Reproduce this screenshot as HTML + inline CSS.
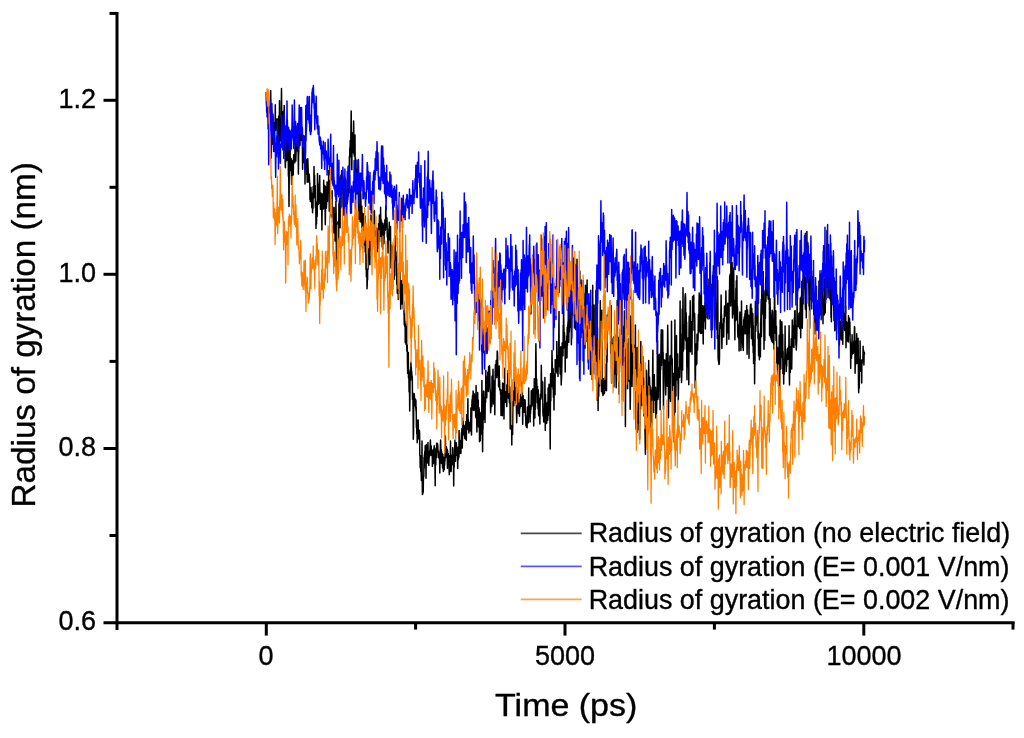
<!DOCTYPE html>
<html><head><meta charset="utf-8"><title>Radius of gyration</title>
<style>
html,body{margin:0;padding:0;background:#fff;}
svg{display:block;}
text{font-family:"Liberation Sans",Arial,Helvetica,sans-serif;fill:#000;stroke:#000;stroke-width:0.35px;}
.tick{font-size:27px;}
.title{}
.leg{font-size:26.9px;}
</style></head>
<body>
<svg width="1024" height="738" viewBox="0 0 1024 738">
<rect x="0" y="0" width="1024" height="738" fill="#ffffff"/>
<g id="series">
<polyline id="s-black" fill="none" stroke="#000000" stroke-width="1.5" stroke-linejoin="round" points="266.3,92.0 266.5,102.9 266.7,106.2 266.9,105.8 267.1,103.0 267.3,104.4 267.5,105.8 267.7,108.4 267.9,107.7 268.1,100.4 268.3,90.6 268.5,106.4 268.7,121.2 268.9,130.0 269.1,121.5 269.3,108.0 269.5,125.7 269.7,112.5 269.9,116.9 270.1,113.0 270.3,105.5 270.5,114.7 270.7,90.5 270.9,109.3 271.1,113.2 271.3,118.1 271.5,110.6 271.7,132.7 271.9,139.4 272.1,132.8 272.3,121.0 272.5,115.8 272.7,144.2 272.9,114.1 273.1,121.1 273.3,133.9 273.5,134.5 273.7,129.0 273.9,148.2 274.1,124.3 274.3,130.1 274.5,126.4 274.7,122.5 274.9,130.8 275.1,125.0 275.3,104.7 275.5,128.6 275.7,124.8 275.9,130.2 276.1,120.5 276.3,128.1 276.5,119.2 276.7,125.4 276.9,129.6 277.1,118.8 277.3,119.2 277.5,125.7 277.7,132.4 277.9,129.1 278.1,127.3 278.3,131.1 278.5,128.0 278.7,116.0 278.9,143.4 279.1,149.6 279.3,136.1 279.5,100.8 279.7,132.3 279.9,119.5 280.1,128.5 280.3,126.1 280.5,140.7 280.7,133.2 280.9,122.5 281.1,124.5 281.3,102.7 281.5,88.5 281.7,111.3 281.9,122.5 282.1,116.9 282.3,134.1 282.5,139.2 282.7,120.1 282.9,127.8 283.0,131.9 283.2,111.4 283.4,142.8 283.6,143.8 283.8,140.4 284.0,121.0 284.2,105.4 284.4,139.1 284.6,138.6 284.8,150.8 285.0,147.7 285.2,164.1 285.4,167.8 285.6,154.5 285.8,154.0 286.0,140.3 286.2,142.3 286.4,159.5 286.6,160.7 286.8,156.0 287.0,140.5 287.2,145.0 287.4,120.1 287.6,160.2 287.8,127.9 288.0,137.2 288.2,149.9 288.4,176.3 288.6,145.3 288.8,181.1 289.0,206.6 289.2,178.4 289.4,162.1 289.6,139.3 289.8,147.1 290.0,130.9 290.2,157.6 290.4,159.6 290.6,170.6 290.8,159.9 291.0,165.6 291.2,158.4 291.4,174.3 291.6,184.5 291.8,178.8 292.0,180.2 292.2,173.5 292.4,174.7 292.6,169.8 292.8,160.5 293.0,168.0 293.2,174.9 293.4,167.3 293.6,159.3 293.8,154.8 294.0,162.4 294.2,156.0 294.4,156.9 294.6,160.9 294.8,162.7 295.0,147.4 295.2,143.7 295.4,153.3 295.6,149.4 295.8,161.1 296.0,154.2 296.2,145.9 296.4,135.5 296.6,148.1 296.8,140.7 297.0,126.0 297.2,133.1 297.4,142.2 297.6,151.2 297.8,131.7 298.0,149.6 298.2,154.5 298.4,174.1 298.6,155.1 298.8,150.9 299.0,144.4 299.2,142.9 299.4,140.8 299.6,129.3 299.8,133.4 300.0,145.6 300.2,124.5 300.4,133.7 300.6,140.0 300.8,107.5 301.0,122.4 301.2,124.0 301.4,138.7 301.6,140.3 301.8,132.7 302.0,127.5 302.2,127.2 302.4,145.9 302.6,169.3 302.8,152.8 303.0,151.5 303.2,159.2 303.4,141.6 303.6,162.4 303.8,162.1 304.0,152.9 304.2,136.0 304.4,148.6 304.6,163.3 304.8,151.8 305.0,184.1 305.2,161.7 305.4,163.3 305.6,158.2 305.8,161.8 306.0,168.2 306.2,159.6 306.4,167.3 306.6,165.8 306.8,174.6 307.0,162.3 307.2,182.2 307.4,178.9 307.6,159.0 307.8,158.8 308.0,164.7 308.2,171.9 308.4,175.7 308.6,178.6 308.8,182.1 309.0,178.9 309.2,174.3 309.4,177.6 309.6,183.1 309.8,182.6 310.0,199.8 310.2,188.6 310.4,201.6 310.6,199.9 310.8,190.0 311.0,187.5 311.2,196.0 311.4,201.6 311.6,197.0 311.8,207.7 312.0,193.9 312.2,193.2 312.4,199.7 312.6,212.8 312.8,201.7 313.0,208.4 313.2,186.6 313.4,197.0 313.6,189.2 313.8,197.8 314.0,166.5 314.2,177.6 314.4,176.1 314.6,175.1 314.8,194.6 315.0,195.7 315.2,185.4 315.4,207.2 315.6,201.1 315.8,207.0 316.0,228.4 316.2,218.4 316.3,220.6 316.5,224.1 316.7,210.7 316.9,202.2 317.1,216.4 317.3,211.1 317.5,173.4 317.7,181.0 317.9,184.6 318.1,183.9 318.3,204.4 318.5,189.7 318.7,191.6 318.9,197.8 319.1,203.2 319.3,199.2 319.5,197.2 319.7,175.6 319.9,195.3 320.1,192.9 320.3,198.7 320.5,209.3 320.7,198.7 320.9,193.1 321.1,205.0 321.3,209.3 321.5,199.1 321.7,199.5 321.9,230.0 322.1,211.0 322.3,194.1 322.5,208.7 322.7,200.4 322.9,202.2 323.1,197.4 323.3,197.8 323.5,209.0 323.7,180.2 323.9,203.7 324.1,204.4 324.3,201.8 324.5,194.7 324.7,185.5 324.9,195.0 325.1,210.4 325.3,224.8 325.5,209.7 325.7,186.8 325.9,197.5 326.1,195.5 326.3,208.2 326.5,204.9 326.7,201.1 326.9,196.2 327.1,181.9 327.3,192.0 327.5,201.2 327.7,185.2 327.9,186.3 328.1,182.8 328.3,190.5 328.5,191.2 328.7,170.4 328.9,191.7 329.1,186.7 329.3,211.2 329.5,191.3 329.7,196.7 329.9,180.6 330.1,202.5 330.3,198.1 330.5,197.1 330.7,214.9 330.9,202.9 331.1,200.7 331.3,216.9 331.5,199.6 331.7,208.3 331.9,195.6 332.1,190.7 332.3,216.3 332.5,206.5 332.7,215.3 332.9,217.8 333.1,213.4 333.3,222.3 333.5,216.9 333.7,220.7 333.9,232.9 334.1,207.5 334.3,230.2 334.5,218.9 334.7,228.3 334.9,213.8 335.1,240.9 335.3,233.3 335.5,218.0 335.7,233.7 335.9,201.2 336.1,212.4 336.3,243.0 336.5,258.9 336.7,239.3 336.9,250.5 337.1,251.2 337.3,274.2 337.5,242.4 337.7,222.1 337.9,229.9 338.1,237.3 338.3,239.6 338.5,221.7 338.7,238.0 338.9,203.8 339.1,219.0 339.3,200.8 339.5,203.5 339.7,198.3 339.9,219.9 340.1,227.8 340.3,181.3 340.5,187.7 340.7,191.2 340.9,175.2 341.1,180.1 341.3,179.1 341.5,186.2 341.7,170.4 341.9,186.0 342.1,178.1 342.3,182.6 342.5,178.6 342.7,186.7 342.9,191.2 343.1,215.3 343.3,201.8 343.5,195.9 343.7,191.6 343.9,180.9 344.1,194.2 344.3,176.5 344.5,176.9 344.7,185.6 344.9,177.7 345.1,178.1 345.3,203.1 345.5,178.9 345.7,184.1 345.9,179.7 346.1,192.8 346.3,206.4 346.5,224.5 346.7,209.6 346.9,197.6 347.1,193.2 347.3,203.7 347.5,193.5 347.7,199.5 347.9,180.8 348.1,196.8 348.3,177.0 348.5,183.8 348.7,167.2 348.9,169.1 349.1,192.5 349.3,171.4 349.4,156.5 349.6,184.8 349.8,148.1 350.0,157.5 350.2,140.4 350.4,155.9 350.6,155.9 350.8,141.4 351.0,125.5 351.2,110.9 351.4,140.6 351.6,149.3 351.8,169.7 352.0,149.7 352.2,144.7 352.4,133.0 352.6,132.7 352.8,150.5 353.0,139.6 353.2,152.5 353.4,139.7 353.6,121.0 353.8,129.9 354.0,153.9 354.2,154.1 354.4,156.2 354.6,141.1 354.8,147.7 355.0,135.0 355.2,174.6 355.4,157.9 355.6,163.9 355.8,163.7 356.0,160.1 356.2,177.8 356.4,169.2 356.6,183.5 356.8,193.9 357.0,186.7 357.2,179.4 357.4,192.3 357.6,187.4 357.8,172.5 358.0,160.3 358.2,175.3 358.4,200.6 358.6,219.6 358.8,196.5 359.0,200.0 359.2,189.0 359.4,208.8 359.6,219.0 359.8,192.1 360.0,201.2 360.2,221.7 360.4,197.4 360.6,190.0 360.8,195.8 361.0,204.6 361.2,206.1 361.4,210.0 361.6,223.1 361.8,206.0 362.0,227.5 362.2,213.0 362.4,237.3 362.6,248.2 362.8,232.5 363.0,221.0 363.2,215.8 363.4,214.6 363.6,238.6 363.8,213.8 364.0,233.3 364.2,229.2 364.4,245.1 364.6,227.6 364.8,240.2 365.0,216.1 365.2,252.0 365.4,234.7 365.6,237.8 365.8,235.3 366.0,269.5 366.2,254.2 366.4,276.8 366.6,263.8 366.8,258.0 367.0,288.7 367.2,285.2 367.4,267.9 367.6,279.9 367.8,245.2 368.0,269.7 368.2,254.1 368.4,256.4 368.6,248.3 368.8,250.1 369.0,244.5 369.2,240.6 369.4,243.5 369.6,253.3 369.8,264.7 370.0,252.9 370.2,239.2 370.4,243.9 370.6,243.2 370.8,250.3 371.0,215.0 371.2,236.7 371.4,237.3 371.6,250.6 371.8,240.8 372.0,244.1 372.2,236.9 372.4,246.0 372.6,246.6 372.8,239.2 373.0,238.8 373.2,233.7 373.4,211.6 373.6,221.7 373.8,233.0 374.0,228.9 374.2,217.2 374.4,210.6 374.6,228.7 374.8,254.9 375.0,235.2 375.2,249.8 375.4,234.4 375.6,245.2 375.8,241.8 376.0,230.8 376.2,232.1 376.4,233.1 376.6,243.1 376.8,228.2 377.0,240.2 377.2,236.7 377.4,251.8 377.6,232.5 377.8,243.5 378.0,241.1 378.2,248.3 378.4,243.6 378.6,223.6 378.8,245.7 379.0,229.9 379.2,235.6 379.4,215.1 379.6,241.8 379.8,231.4 380.0,230.5 380.2,225.9 380.4,236.2 380.6,207.2 380.8,224.6 381.0,219.0 381.2,224.6 381.4,236.6 381.6,221.1 381.8,228.3 382.0,227.0 382.2,246.9 382.4,239.2 382.6,245.9 382.7,249.3 382.9,223.2 383.1,226.0 383.3,235.0 383.5,240.8 383.7,233.3 383.9,243.7 384.1,237.1 384.3,225.3 384.5,234.0 384.7,224.5 384.9,219.8 385.1,226.0 385.3,223.2 385.5,229.9 385.7,209.2 385.9,206.0 386.1,227.0 386.3,222.5 386.5,225.5 386.7,227.0 386.9,217.8 387.1,222.4 387.3,237.0 387.5,236.0 387.7,233.1 387.9,245.0 388.1,252.9 388.3,235.1 388.5,236.7 388.7,238.8 388.9,229.3 389.1,228.9 389.3,222.2 389.5,241.8 389.7,239.3 389.9,240.0 390.1,236.9 390.3,248.4 390.5,226.4 390.7,254.7 390.9,268.1 391.1,256.2 391.3,245.0 391.5,245.2 391.7,259.8 391.9,252.3 392.1,259.7 392.3,249.1 392.5,246.6 392.7,275.2 392.9,252.5 393.1,268.1 393.3,272.4 393.5,264.5 393.7,267.5 393.9,268.6 394.1,279.3 394.3,264.4 394.5,267.9 394.7,275.7 394.9,244.9 395.1,235.8 395.3,249.7 395.5,251.2 395.7,259.9 395.9,258.5 396.1,251.9 396.3,260.2 396.5,255.9 396.7,284.3 396.9,276.2 397.1,268.6 397.3,293.2 397.5,278.4 397.7,287.6 397.9,274.7 398.1,273.9 398.3,299.4 398.5,282.1 398.7,277.4 398.9,279.2 399.1,293.6 399.3,281.2 399.5,273.9 399.7,256.3 399.9,274.5 400.1,286.7 400.3,280.3 400.5,281.1 400.7,309.0 400.9,295.5 401.1,284.9 401.3,295.0 401.5,280.8 401.7,295.3 401.9,304.1 402.1,287.3 402.3,302.0 402.5,286.9 402.7,279.7 402.9,291.0 403.1,295.1 403.3,308.9 403.5,305.6 403.7,301.8 403.9,308.4 404.1,316.3 404.3,325.1 404.5,313.7 404.7,319.6 404.9,326.9 405.1,321.2 405.3,342.8 405.5,332.6 405.7,321.4 405.9,324.7 406.1,344.5 406.3,330.0 406.5,326.8 406.7,344.9 406.9,351.3 407.1,326.4 407.3,347.5 407.5,365.7 407.7,373.4 407.9,365.9 408.1,366.2 408.3,352.5 408.5,377.8 408.7,370.3 408.9,376.9 409.1,391.9 409.3,380.3 409.5,386.0 409.7,410.9 409.9,399.1 410.1,372.2 410.3,378.3 410.5,369.3 410.7,380.3 410.9,362.2 411.1,367.6 411.3,367.3 411.5,372.1 411.7,371.2 411.9,374.5 412.1,376.9 412.3,376.6 412.5,399.4 412.7,396.4 412.9,393.0 413.1,409.3 413.3,439.2 413.5,432.5 413.7,406.9 413.9,393.9 414.1,399.5 414.3,393.8 414.5,398.2 414.7,405.8 414.9,401.2 415.1,400.2 415.3,399.0 415.5,402.2 415.7,408.1 415.9,400.1 416.0,411.0 416.2,407.0 416.4,427.4 416.6,419.5 416.8,434.1 417.0,421.1 417.2,442.7 417.4,436.9 417.6,432.7 417.8,428.1 418.0,424.0 418.2,420.1 418.4,432.2 418.6,433.9 418.8,439.0 419.0,430.7 419.2,436.6 419.4,430.2 419.6,433.0 419.8,455.9 420.0,455.6 420.2,467.7 420.4,467.2 420.6,467.0 420.8,471.4 421.0,455.9 421.2,473.2 421.4,480.4 421.6,480.2 421.8,471.6 422.0,441.1 422.2,477.9 422.4,494.5 422.6,494.4 422.8,493.6 423.0,492.7 423.2,491.9 423.4,478.7 423.6,476.3 423.8,476.5 424.0,457.6 424.2,468.3 424.4,455.3 424.6,454.7 424.8,451.6 425.0,456.5 425.2,445.7 425.4,460.9 425.6,449.0 425.8,457.1 426.0,478.3 426.2,461.6 426.4,444.5 426.6,452.1 426.8,456.0 427.0,458.8 427.2,455.8 427.4,450.0 427.6,463.1 427.8,449.6 428.0,442.5 428.2,460.8 428.4,459.1 428.6,458.0 428.8,465.6 429.0,459.5 429.2,455.6 429.4,457.1 429.6,451.0 429.8,455.4 430.0,449.0 430.2,445.5 430.4,440.1 430.6,449.0 430.8,455.0 431.0,450.8 431.2,445.8 431.4,450.5 431.6,455.5 431.8,455.3 432.0,454.3 432.2,450.9 432.4,466.5 432.6,457.6 432.8,458.9 433.0,457.2 433.2,449.5 433.4,463.4 433.6,451.8 433.8,453.2 434.0,450.1 434.2,445.8 434.4,454.2 434.6,448.0 434.8,454.2 435.0,467.9 435.2,485.8 435.4,455.9 435.6,464.5 435.8,464.8 436.0,448.9 436.2,451.9 436.4,456.4 436.6,443.4 436.8,457.4 437.0,443.0 437.2,450.5 437.4,448.4 437.6,443.7 437.8,446.2 438.0,452.0 438.2,450.7 438.4,452.0 438.6,451.2 438.8,458.1 439.0,454.9 439.2,454.0 439.4,454.9 439.6,461.8 439.8,473.1 440.0,460.7 440.2,455.2 440.4,446.9 440.6,440.1 440.8,447.7 441.0,455.4 441.2,449.4 441.4,463.3 441.6,451.2 441.8,457.9 442.0,453.3 442.2,458.9 442.4,463.1 442.6,467.7 442.8,454.5 443.0,468.8 443.2,460.6 443.4,471.6 443.6,457.3 443.8,461.2 444.0,463.6 444.2,469.7 444.4,461.1 444.6,465.1 444.8,459.4 445.0,461.0 445.2,445.0 445.4,436.0 445.6,447.1 445.8,457.6 446.0,455.4 446.2,455.8 446.4,446.8 446.6,448.0 446.8,452.0 447.0,453.6 447.2,449.3 447.4,468.3 447.6,450.7 447.8,459.3 448.0,462.7 448.2,453.5 448.4,462.3 448.6,459.5 448.8,455.6 449.0,467.0 449.1,469.2 449.3,474.7 449.5,471.1 449.7,458.7 449.9,471.6 450.1,455.1 450.3,458.1 450.5,440.9 450.7,462.8 450.9,461.4 451.1,471.6 451.3,465.3 451.5,456.4 451.7,462.8 451.9,465.1 452.1,454.9 452.3,456.7 452.5,462.4 452.7,447.6 452.9,448.4 453.1,463.7 453.3,460.9 453.5,462.3 453.7,486.1 453.9,465.5 454.1,467.5 454.3,459.6 454.5,456.7 454.7,450.4 454.9,440.3 455.1,453.6 455.3,451.8 455.5,461.2 455.7,449.9 455.9,449.6 456.1,455.5 456.3,442.8 456.5,447.8 456.7,452.8 456.9,450.0 457.1,449.2 457.3,451.9 457.5,452.5 457.7,468.4 457.9,451.0 458.1,447.0 458.3,459.7 458.5,455.9 458.7,452.4 458.9,457.4 459.1,430.5 459.3,449.2 459.5,450.2 459.7,453.5 459.9,451.8 460.1,450.1 460.3,450.9 460.5,440.6 460.7,443.2 460.9,453.6 461.1,444.0 461.3,437.4 461.5,432.4 461.7,436.7 461.9,428.5 462.1,442.7 462.3,448.0 462.5,434.4 462.7,424.7 462.9,434.5 463.1,418.0 463.3,431.2 463.5,426.6 463.7,434.1 463.9,424.9 464.1,429.9 464.3,435.6 464.5,427.3 464.7,438.3 464.9,426.7 465.1,428.1 465.3,439.1 465.5,425.7 465.7,427.4 465.9,421.6 466.1,422.8 466.3,440.3 466.5,429.6 466.7,414.6 466.9,417.7 467.1,421.0 467.3,427.5 467.5,425.7 467.7,416.6 467.9,398.7 468.1,429.8 468.3,419.6 468.5,424.4 468.7,421.2 468.9,432.9 469.1,425.7 469.3,429.2 469.5,424.1 469.7,422.8 469.9,426.9 470.1,429.4 470.3,431.0 470.5,430.4 470.7,430.6 470.9,407.9 471.1,423.0 471.3,428.9 471.5,434.9 471.7,416.5 471.9,403.3 472.1,399.4 472.3,402.6 472.5,395.7 472.7,405.0 472.9,409.8 473.1,391.0 473.3,394.4 473.5,397.0 473.7,393.3 473.9,410.5 474.1,394.5 474.3,409.9 474.5,401.2 474.7,394.2 474.9,402.8 475.1,403.5 475.3,397.4 475.5,403.6 475.7,417.2 475.9,409.3 476.1,385.6 476.3,416.9 476.5,418.6 476.7,417.0 476.9,432.1 477.1,397.2 477.3,412.6 477.5,416.5 477.7,392.5 477.9,415.3 478.1,406.6 478.3,400.1 478.5,427.0 478.7,421.3 478.9,407.6 479.1,420.0 479.3,409.1 479.5,441.8 479.7,412.8 479.9,428.8 480.1,422.6 480.3,440.7 480.5,425.2 480.7,422.5 480.9,424.5 481.1,412.2 481.3,422.5 481.5,433.3 481.7,434.0 481.9,380.5 482.1,416.0 482.3,430.9 482.4,433.4 482.6,451.8 482.8,427.6 483.0,429.3 483.2,402.2 483.4,398.9 483.6,391.0 483.8,414.1 484.0,410.4 484.2,419.0 484.4,403.2 484.6,403.6 484.8,397.8 485.0,422.6 485.2,402.8 485.4,391.5 485.6,402.5 485.8,370.2 486.0,387.6 486.2,388.8 486.4,393.7 486.6,394.1 486.8,397.8 487.0,377.0 487.2,390.3 487.4,381.1 487.6,387.3 487.8,372.3 488.0,387.5 488.2,383.2 488.4,391.4 488.6,366.7 488.8,366.5 489.0,371.1 489.2,372.0 489.4,365.7 489.6,366.7 489.8,375.1 490.0,388.1 490.2,390.4 490.4,392.5 490.6,412.8 490.8,408.9 491.0,400.9 491.2,397.0 491.4,401.1 491.6,393.5 491.8,406.4 492.0,376.2 492.2,384.3 492.4,384.2 492.6,387.8 492.8,379.0 493.0,369.2 493.2,385.6 493.4,404.1 493.6,385.1 493.8,396.4 494.0,396.6 494.2,389.5 494.4,380.8 494.6,392.2 494.8,414.8 495.0,390.6 495.2,373.1 495.4,364.4 495.6,364.4 495.8,374.3 496.0,371.3 496.2,360.6 496.4,361.6 496.6,375.2 496.8,377.7 497.0,366.1 497.2,350.9 497.4,351.6 497.6,356.0 497.8,368.7 498.0,375.5 498.2,370.9 498.4,368.1 498.6,386.7 498.8,377.4 499.0,370.1 499.2,366.0 499.4,386.9 499.6,380.5 499.8,389.9 500.0,389.7 500.2,389.4 500.4,389.3 500.6,394.5 500.8,391.3 501.0,415.6 501.2,400.4 501.4,390.3 501.6,395.1 501.8,392.5 502.0,397.2 502.2,391.5 502.4,415.8 502.6,383.0 502.8,397.4 503.0,390.4 503.2,383.6 503.4,397.6 503.6,406.9 503.8,397.2 504.0,419.1 504.2,387.8 504.4,393.2 504.6,377.0 504.8,368.2 505.0,376.8 505.2,381.6 505.4,390.9 505.6,402.2 505.8,394.4 506.0,402.0 506.2,387.2 506.4,384.9 506.6,405.4 506.8,406.5 507.0,385.7 507.2,391.1 507.4,396.6 507.6,387.5 507.8,373.5 508.0,384.6 508.2,370.5 508.4,398.3 508.6,380.2 508.8,371.0 509.0,391.0 509.2,398.2 509.4,402.4 509.6,396.9 509.8,386.9 510.0,396.9 510.2,428.9 510.4,410.4 510.6,406.1 510.8,413.2 511.0,403.0 511.2,417.6 511.4,426.7 511.6,421.0 511.8,444.9 512.0,415.5 512.2,434.9 512.4,424.1 512.6,434.5 512.8,415.3 513.0,383.9 513.2,387.3 513.4,400.1 513.6,384.3 513.8,405.7 514.0,376.2 514.2,396.5 514.4,383.5 514.6,392.5 514.8,397.6 515.0,377.4 515.2,387.1 515.4,400.4 515.6,395.3 515.7,380.6 515.9,393.9 516.1,403.5 516.3,401.4 516.5,412.7 516.7,422.8 516.9,411.4 517.1,394.0 517.3,395.9 517.5,408.1 517.7,410.6 517.9,397.9 518.1,399.4 518.3,387.0 518.5,413.6 518.7,403.9 518.9,400.8 519.1,410.2 519.3,408.7 519.5,416.3 519.7,400.1 519.9,408.6 520.1,399.3 520.3,406.5 520.5,402.1 520.7,394.5 520.9,396.7 521.1,406.6 521.3,395.1 521.5,398.1 521.7,381.9 521.9,397.4 522.1,382.1 522.3,390.8 522.5,402.6 522.7,424.3 522.9,407.7 523.1,395.4 523.3,400.4 523.5,407.6 523.7,408.8 523.9,403.7 524.1,412.2 524.3,410.0 524.5,399.5 524.7,406.8 524.9,410.6 525.1,400.0 525.3,405.4 525.5,416.3 525.7,415.8 525.9,425.4 526.1,425.8 526.3,419.1 526.5,427.3 526.7,422.3 526.9,426.0 527.1,427.7 527.3,413.9 527.5,406.9 527.7,423.6 527.9,412.5 528.1,411.5 528.3,422.4 528.5,406.6 528.7,388.0 528.9,417.0 529.1,410.7 529.3,407.4 529.5,417.1 529.7,416.6 529.9,410.4 530.1,422.0 530.3,405.6 530.5,414.0 530.7,406.2 530.9,409.8 531.1,405.2 531.3,391.0 531.5,390.5 531.7,406.5 531.9,399.9 532.1,401.5 532.3,404.7 532.5,401.5 532.7,389.0 532.9,398.7 533.1,400.6 533.3,402.8 533.5,388.7 533.7,425.9 533.9,400.8 534.1,408.5 534.3,378.7 534.5,405.1 534.7,394.6 534.9,418.1 535.1,391.6 535.3,409.5 535.5,407.1 535.7,358.8 535.9,343.8 536.1,360.0 536.3,387.1 536.5,392.7 536.7,379.0 536.9,387.4 537.1,393.0 537.3,402.7 537.5,386.4 537.7,400.5 537.9,403.2 538.1,409.0 538.3,390.0 538.5,413.0 538.7,415.7 538.9,404.2 539.1,401.6 539.3,407.9 539.5,398.6 539.7,409.1 539.9,424.0 540.1,404.5 540.3,396.2 540.5,394.1 540.7,393.8 540.9,399.2 541.1,393.0 541.3,365.3 541.5,379.3 541.7,380.7 541.9,391.1 542.1,396.7 542.3,386.8 542.5,391.3 542.7,382.0 542.9,412.1 543.1,416.0 543.3,416.1 543.5,408.2 543.7,422.1 543.9,420.1 544.1,416.4 544.3,420.0 544.5,404.1 544.7,403.2 544.9,377.6 545.1,409.9 545.3,430.6 545.5,394.5 545.7,414.7 545.9,410.7 546.1,408.3 546.3,423.6 546.5,404.2 546.7,423.2 546.9,416.0 547.1,419.1 547.3,402.2 547.5,415.8 547.7,420.3 547.9,412.2 548.1,388.1 548.3,415.4 548.5,403.4 548.7,398.9 548.8,400.6 549.0,384.3 549.2,401.9 549.4,396.1 549.6,391.0 549.8,397.5 550.0,422.9 550.2,449.0 550.4,406.4 550.6,373.6 550.8,401.0 551.0,384.0 551.2,386.0 551.4,379.2 551.6,386.4 551.8,369.8 552.0,350.5 552.2,362.5 552.4,367.6 552.6,374.1 552.8,377.1 553.0,389.2 553.2,368.8 553.4,397.2 553.6,374.4 553.8,391.9 554.0,410.0 554.2,380.8 554.4,389.2 554.6,376.2 554.8,373.6 555.0,394.7 555.2,359.7 555.4,370.4 555.6,361.4 555.8,371.0 556.0,371.8 556.2,368.0 556.4,362.7 556.6,369.1 556.8,341.4 557.0,366.9 557.2,373.6 557.4,355.4 557.6,363.7 557.8,367.1 558.0,376.6 558.2,363.6 558.4,358.2 558.6,355.1 558.8,334.1 559.0,311.5 559.2,357.7 559.4,366.4 559.6,362.2 559.8,347.6 560.0,367.3 560.2,374.0 560.4,358.3 560.6,366.9 560.8,346.7 561.0,370.0 561.2,385.0 561.4,380.3 561.6,375.7 561.8,368.7 562.0,352.0 562.2,343.0 562.4,345.1 562.6,350.8 562.8,345.3 563.0,355.7 563.2,325.2 563.4,336.2 563.6,296.2 563.8,322.0 564.0,333.1 564.2,347.8 564.4,332.6 564.6,335.9 564.8,343.2 565.0,341.0 565.2,371.9 565.4,347.6 565.6,344.8 565.8,358.4 566.0,347.3 566.2,341.6 566.4,354.5 566.6,348.1 566.8,336.1 567.0,357.8 567.2,327.2 567.4,345.8 567.6,339.6 567.8,326.7 568.0,322.0 568.2,327.1 568.4,291.1 568.6,304.0 568.8,342.2 569.0,318.9 569.2,331.5 569.4,331.7 569.6,309.5 569.8,327.8 570.0,297.4 570.2,309.0 570.4,305.8 570.6,286.8 570.8,316.6 571.0,285.7 571.2,307.3 571.4,344.8 571.6,314.8 571.8,317.9 572.0,311.1 572.2,310.1 572.4,304.2 572.6,307.4 572.8,309.9 573.0,311.9 573.2,297.6 573.4,314.7 573.6,301.9 573.8,308.7 574.0,293.3 574.2,285.4 574.4,328.0 574.6,292.8 574.8,318.1 575.0,310.1 575.2,302.8 575.4,299.1 575.6,305.6 575.8,329.7 576.0,303.6 576.2,314.5 576.4,303.4 576.6,303.0 576.8,282.5 577.0,259.3 577.2,298.3 577.4,320.0 577.6,316.2 577.8,299.2 578.0,302.5 578.2,300.5 578.4,317.8 578.6,300.1 578.8,295.4 579.0,301.3 579.2,297.9 579.4,292.5 579.6,294.1 579.8,270.9 580.0,303.5 580.2,283.9 580.4,296.6 580.6,337.7 580.8,301.9 581.0,302.2 581.2,293.0 581.4,323.5 581.6,313.9 581.8,326.0 582.0,309.5 582.1,295.1 582.3,332.8 582.5,329.0 582.7,310.2 582.9,314.8 583.1,301.0 583.3,280.5 583.5,297.8 583.7,293.2 583.9,308.9 584.1,306.9 584.3,326.8 584.5,348.4 584.7,331.4 584.9,311.5 585.1,308.7 585.3,337.7 585.5,285.2 585.7,295.0 585.9,295.7 586.1,341.6 586.3,291.3 586.5,317.7 586.7,336.5 586.9,310.8 587.1,280.1 587.3,313.7 587.5,316.6 587.7,326.1 587.9,310.9 588.1,329.8 588.3,362.8 588.5,339.0 588.7,314.4 588.9,331.8 589.1,336.4 589.3,342.7 589.5,347.6 589.7,305.3 589.9,332.8 590.1,310.5 590.3,337.0 590.5,374.5 590.7,347.2 590.9,348.7 591.1,333.4 591.3,339.5 591.5,352.3 591.7,353.0 591.9,347.3 592.1,379.5 592.3,305.9 592.5,333.2 592.7,285.3 592.9,337.8 593.1,326.6 593.3,311.0 593.5,327.1 593.7,317.7 593.9,339.5 594.1,305.1 594.3,350.0 594.5,347.6 594.7,330.1 594.9,335.5 595.1,353.8 595.3,362.8 595.5,340.9 595.7,338.0 595.9,290.6 596.1,314.0 596.3,339.4 596.5,331.2 596.7,320.3 596.9,357.5 597.1,399.9 597.3,393.6 597.5,328.1 597.7,375.3 597.9,368.5 598.1,410.6 598.3,385.5 598.5,390.5 598.7,396.4 598.9,379.1 599.1,359.4 599.3,349.5 599.5,385.9 599.7,353.7 599.9,352.0 600.1,338.1 600.3,300.8 600.5,331.9 600.7,317.1 600.9,360.7 601.1,345.2 601.3,356.7 601.5,391.6 601.7,339.7 601.9,310.3 602.1,352.0 602.3,386.5 602.5,393.8 602.7,383.2 602.9,395.5 603.1,394.9 603.3,378.5 603.5,394.4 603.7,390.9 603.9,393.9 604.1,387.8 604.3,393.4 604.5,393.1 604.7,379.2 604.9,377.1 605.1,379.6 605.3,388.5 605.5,380.6 605.7,390.2 605.9,364.4 606.1,364.9 606.3,370.5 606.5,390.7 606.7,356.0 606.9,362.7 607.1,359.2 607.3,315.0 607.5,323.5 607.7,325.9 607.9,316.7 608.1,324.3 608.3,321.3 608.5,312.1 608.7,311.7 608.9,311.3 609.1,310.9 609.3,310.5 609.5,323.6 609.7,320.7 609.9,309.3 610.1,322.3 610.3,328.8 610.5,327.0 610.7,352.9 610.9,336.6 611.1,305.5 611.3,351.0 611.5,368.9 611.7,383.1 611.9,361.2 612.1,345.0 612.3,363.6 612.5,353.0 612.7,343.4 612.9,355.8 613.1,338.5 613.3,358.6 613.5,336.9 613.7,362.8 613.9,386.9 614.1,356.8 614.3,361.7 614.5,364.9 614.7,373.9 614.9,344.9 615.1,348.9 615.2,353.6 615.4,349.9 615.6,335.3 615.8,369.5 616.0,373.5 616.2,387.8 616.4,359.8 616.6,330.0 616.8,324.8 617.0,322.3 617.2,300.4 617.4,322.9 617.6,350.0 617.8,343.0 618.0,341.1 618.2,337.3 618.4,372.7 618.6,354.7 618.8,365.7 619.0,394.1 619.2,344.7 619.4,372.6 619.6,365.0 619.8,340.2 620.0,348.1 620.2,335.3 620.4,329.1 620.6,355.9 620.8,328.8 621.0,304.0 621.2,362.8 621.4,350.9 621.6,337.5 621.8,349.4 622.0,370.0 622.2,357.9 622.4,377.4 622.6,399.5 622.8,370.6 623.0,365.7 623.2,357.2 623.4,349.0 623.6,326.9 623.8,361.3 624.0,325.7 624.2,341.0 624.4,311.1 624.6,341.2 624.8,339.6 625.0,310.9 625.2,347.3 625.4,426.6 625.6,394.5 625.8,339.8 626.0,372.2 626.2,353.0 626.4,368.4 626.6,339.2 626.8,359.0 627.0,361.5 627.2,350.0 627.4,343.5 627.6,388.8 627.8,349.1 628.0,377.3 628.2,353.9 628.4,349.6 628.6,371.3 628.8,338.5 629.0,362.0 629.2,381.2 629.4,346.7 629.6,361.4 629.8,372.1 630.0,388.2 630.2,409.3 630.4,396.4 630.6,360.0 630.8,316.0 631.0,360.9 631.2,368.8 631.4,364.6 631.6,374.8 631.8,353.4 632.0,386.5 632.2,371.7 632.4,344.5 632.6,363.3 632.8,372.8 633.0,359.1 633.2,354.1 633.4,373.1 633.6,357.0 633.8,351.9 634.0,356.9 634.2,352.3 634.4,345.5 634.6,348.7 634.8,369.8 635.0,371.6 635.2,353.9 635.4,325.1 635.6,361.8 635.8,406.1 636.0,429.0 636.2,386.0 636.4,407.7 636.6,411.7 636.8,414.5 637.0,432.3 637.2,347.6 637.4,386.5 637.6,380.3 637.8,422.9 638.0,393.8 638.2,417.2 638.4,394.8 638.6,404.3 638.8,400.6 639.0,429.8 639.2,409.6 639.4,426.2 639.6,439.2 639.8,422.7 640.0,398.1 640.2,392.5 640.4,398.6 640.6,408.9 640.8,341.4 641.0,374.8 641.2,405.5 641.4,375.8 641.6,387.8 641.8,370.4 642.0,390.1 642.2,391.5 642.4,362.4 642.6,374.4 642.8,356.4 643.0,385.8 643.2,405.9 643.4,390.7 643.6,377.9 643.8,380.7 644.0,415.9 644.2,412.3 644.4,410.5 644.6,403.3 644.8,399.5 645.0,430.7 645.2,444.5 645.4,454.2 645.6,423.0 645.8,409.0 646.0,436.3 646.2,370.2 646.4,389.7 646.6,407.8 646.8,390.4 647.0,386.9 647.2,394.7 647.4,411.5 647.6,397.3 647.8,434.1 648.0,389.8 648.2,374.4 648.4,370.8 648.5,375.4 648.7,360.5 648.9,384.7 649.1,394.3 649.3,383.4 649.5,376.9 649.7,389.2 649.9,399.4 650.1,385.7 650.3,403.0 650.5,429.9 650.7,403.9 650.9,398.0 651.1,390.5 651.3,415.3 651.5,389.9 651.7,398.1 651.9,424.6 652.1,387.5 652.3,390.8 652.5,387.3 652.7,363.5 652.9,350.2 653.1,394.8 653.3,394.9 653.5,378.4 653.7,412.6 653.9,378.1 654.1,383.9 654.3,374.4 654.5,393.8 654.7,400.2 654.9,391.4 655.1,394.4 655.3,387.6 655.5,387.4 655.7,393.7 655.9,418.0 656.1,401.2 656.3,399.2 656.5,413.5 656.7,405.1 656.9,394.8 657.1,396.5 657.3,357.4 657.5,340.6 657.7,383.9 657.9,399.5 658.1,387.7 658.3,397.6 658.5,378.2 658.7,378.8 658.9,374.7 659.1,355.1 659.3,354.3 659.5,372.0 659.7,356.8 659.9,375.2 660.1,409.8 660.3,378.3 660.5,358.3 660.7,369.8 660.9,353.4 661.1,335.5 661.3,329.8 661.5,365.3 661.7,355.1 661.9,346.8 662.1,337.5 662.3,356.6 662.5,338.7 662.7,330.0 662.9,356.2 663.1,352.5 663.3,388.5 663.5,409.5 663.7,374.4 663.9,360.4 664.1,361.8 664.3,360.1 664.5,373.4 664.7,363.3 664.9,364.8 665.1,360.2 665.3,382.5 665.5,389.6 665.7,395.0 665.9,377.9 666.1,372.6 666.3,353.7 666.5,376.0 666.7,381.6 666.9,374.5 667.1,365.2 667.3,386.3 667.5,348.5 667.7,325.3 667.9,340.6 668.1,363.2 668.3,368.8 668.5,417.8 668.7,375.6 668.9,382.3 669.1,364.7 669.3,362.0 669.5,396.2 669.7,398.3 669.9,355.9 670.1,391.4 670.3,389.4 670.5,401.6 670.7,370.3 670.9,355.2 671.1,357.2 671.3,361.0 671.5,321.2 671.7,357.9 671.9,363.7 672.1,361.5 672.3,358.7 672.5,384.9 672.7,413.2 672.9,412.4 673.1,426.2 673.3,373.5 673.5,412.9 673.7,389.6 673.9,413.0 674.1,403.8 674.3,442.5 674.5,375.9 674.7,377.1 674.9,320.0 675.1,412.3 675.3,343.6 675.5,343.4 675.7,368.3 675.9,396.1 676.1,347.9 676.3,379.2 676.5,335.4 676.7,380.1 676.9,360.7 677.1,372.1 677.3,367.4 677.5,354.7 677.7,354.0 677.9,378.3 678.1,385.7 678.3,399.8 678.5,387.4 678.7,372.3 678.9,377.1 679.1,368.4 679.3,367.7 679.5,377.4 679.7,377.1 679.9,336.8 680.1,301.0 680.3,337.0 680.5,334.0 680.7,369.3 680.9,368.6 681.1,347.2 681.3,357.0 681.5,382.6 681.7,377.5 681.8,354.5 682.0,361.8 682.2,309.1 682.4,362.2 682.6,369.9 682.8,321.1 683.0,287.8 683.2,331.1 683.4,351.1 683.6,324.4 683.8,349.2 684.0,336.1 684.2,325.4 684.4,333.2 684.6,338.5 684.8,322.8 685.0,299.7 685.2,294.9 685.4,293.7 685.6,298.0 685.8,340.8 686.0,337.4 686.2,312.7 686.4,349.3 686.6,322.2 686.8,364.3 687.0,379.7 687.2,357.6 687.4,350.1 687.6,344.6 687.8,352.7 688.0,366.8 688.2,337.8 688.4,357.3 688.6,339.4 688.8,384.8 689.0,332.7 689.2,316.3 689.4,329.0 689.6,327.8 689.8,328.6 690.0,330.8 690.2,300.7 690.4,351.7 690.6,325.9 690.8,330.2 691.0,323.5 691.2,326.5 691.4,345.2 691.6,321.6 691.8,325.4 692.0,354.2 692.2,326.4 692.4,313.3 692.6,296.7 692.8,313.9 693.0,316.7 693.2,302.0 693.4,295.7 693.6,302.1 693.8,295.2 694.0,330.2 694.2,321.9 694.4,324.6 694.6,313.3 694.8,321.7 695.0,368.0 695.2,387.9 695.4,387.0 695.6,356.8 695.8,355.3 696.0,365.4 696.2,343.7 696.4,353.1 696.6,346.9 696.8,364.1 697.0,334.2 697.2,340.7 697.4,346.4 697.6,349.9 697.8,339.5 698.0,340.8 698.2,329.4 698.4,314.4 698.6,322.9 698.8,332.0 699.0,303.6 699.2,293.1 699.4,301.8 699.6,312.9 699.8,309.8 700.0,295.1 700.2,323.3 700.4,333.4 700.6,309.1 700.8,313.0 701.0,322.6 701.2,311.4 701.4,290.7 701.6,333.2 701.8,309.2 702.0,330.6 702.2,314.4 702.4,313.2 702.6,305.8 702.8,318.3 703.0,327.3 703.2,343.9 703.4,325.5 703.6,316.6 703.8,316.8 704.0,305.9 704.2,318.6 704.4,321.0 704.6,307.3 704.8,309.2 705.0,305.3 705.2,302.5 705.4,329.0 705.6,297.2 705.8,310.2 706.0,311.3 706.2,290.9 706.4,299.4 706.6,265.0 706.8,301.9 707.0,287.1 707.2,318.0 707.4,307.2 707.6,286.5 707.8,292.4 708.0,296.6 708.2,297.0 708.4,294.5 708.6,293.4 708.8,294.8 709.0,279.1 709.2,284.5 709.4,288.5 709.6,318.8 709.8,282.4 710.0,262.9 710.2,283.0 710.4,305.2 710.6,304.0 710.8,294.5 711.0,309.1 711.2,284.6 711.4,302.9 711.6,306.9 711.8,290.4 712.0,308.3 712.2,289.1 712.4,288.7 712.6,275.5 712.8,284.8 713.0,286.4 713.2,282.1 713.4,265.7 713.6,280.7 713.8,287.8 714.0,295.9 714.2,289.7 714.4,291.3 714.6,328.2 714.8,319.3 715.0,293.1 715.1,320.0 715.3,299.1 715.5,311.1 715.7,310.5 715.9,307.9 716.1,307.1 716.3,303.3 716.5,313.8 716.7,323.5 716.9,330.0 717.1,276.6 717.3,338.6 717.5,302.9 717.7,280.2 717.9,316.1 718.1,358.1 718.3,359.7 718.5,361.3 718.7,335.5 718.9,364.5 719.1,364.3 719.3,363.3 719.5,356.4 719.7,334.0 719.9,324.8 720.1,322.4 720.3,328.4 720.5,326.0 720.7,320.7 720.9,311.5 721.1,295.0 721.3,313.7 721.5,314.8 721.7,336.6 721.9,348.4 722.1,337.9 722.3,337.6 722.5,335.5 722.7,333.0 722.9,324.1 723.1,325.8 723.3,332.1 723.5,318.6 723.7,337.0 723.9,323.2 724.1,322.0 724.3,314.2 724.5,306.0 724.7,307.2 724.9,315.9 725.1,316.0 725.3,309.2 725.5,308.6 725.7,307.4 725.9,291.1 726.1,307.5 726.3,306.3 726.5,321.5 726.7,344.6 726.9,329.8 727.1,306.0 727.3,309.1 727.5,319.0 727.7,303.3 727.9,316.5 728.1,332.8 728.3,315.0 728.5,322.6 728.7,315.8 728.9,339.3 729.1,306.8 729.3,289.8 729.5,302.0 729.7,276.2 729.9,276.9 730.1,274.2 730.3,283.4 730.5,277.3 730.7,306.0 730.9,257.7 731.1,286.0 731.3,269.2 731.5,283.2 731.7,301.0 731.9,279.9 732.1,262.2 732.3,303.9 732.5,318.1 732.7,304.0 732.9,299.3 733.1,301.8 733.3,314.0 733.5,292.4 733.7,268.0 733.9,291.3 734.1,310.3 734.3,311.0 734.5,315.0 734.7,325.1 734.9,339.8 735.1,300.2 735.3,321.2 735.5,309.7 735.7,309.5 735.9,288.3 736.1,319.1 736.3,280.7 736.5,302.6 736.7,320.1 736.9,275.7 737.1,307.2 737.3,306.0 737.5,308.3 737.7,331.3 737.9,337.0 738.1,326.9 738.3,324.7 738.5,333.0 738.7,338.9 738.9,328.5 739.1,351.0 739.3,327.5 739.5,327.2 739.7,320.1 739.9,312.0 740.1,329.6 740.3,316.2 740.5,327.3 740.7,323.9 740.9,350.6 741.1,335.6 741.3,343.3 741.5,300.9 741.7,328.3 741.9,341.2 742.1,326.2 742.3,338.3 742.5,329.3 742.7,347.6 742.9,331.3 743.1,330.9 743.3,350.6 743.5,328.7 743.7,319.7 743.9,332.8 744.1,322.1 744.3,316.9 744.5,330.5 744.7,332.2 744.9,313.8 745.1,334.1 745.3,310.8 745.5,322.3 745.7,333.3 745.9,328.6 746.1,313.1 746.3,320.7 746.5,314.6 746.7,305.4 746.9,334.2 747.1,354.3 747.3,321.0 747.5,310.0 747.7,319.2 747.9,327.5 748.1,329.0 748.2,316.6 748.4,333.6 748.6,315.3 748.8,331.8 749.0,358.2 749.2,333.0 749.4,323.8 749.6,327.8 749.8,319.5 750.0,321.4 750.2,310.7 750.4,306.6 750.6,304.4 750.8,322.1 751.0,304.0 751.2,316.9 751.4,338.6 751.6,322.2 751.8,308.5 752.0,322.4 752.2,339.2 752.4,318.6 752.6,345.2 752.8,313.5 753.0,322.8 753.2,353.0 753.4,325.4 753.6,363.5 753.8,340.1 754.0,352.9 754.2,347.5 754.4,347.5 754.6,383.8 754.8,360.5 755.0,360.4 755.2,321.3 755.4,301.3 755.6,331.5 755.8,326.2 756.0,318.1 756.2,325.5 756.4,318.4 756.6,295.9 756.8,295.4 757.0,303.5 757.2,314.3 757.4,315.8 757.6,323.2 757.8,291.1 758.0,338.5 758.2,330.8 758.4,338.6 758.6,355.8 758.8,346.4 759.0,333.7 759.2,337.6 759.4,359.7 759.6,344.3 759.8,349.9 760.0,338.4 760.2,357.0 760.4,356.5 760.6,322.9 760.8,320.3 761.0,311.3 761.2,299.5 761.4,336.8 761.6,326.0 761.8,280.1 762.0,284.7 762.2,307.7 762.4,294.8 762.6,308.5 762.8,284.9 763.0,314.0 763.2,271.4 763.4,304.7 763.6,299.9 763.8,324.6 764.0,349.3 764.2,324.9 764.4,312.9 764.6,309.5 764.8,340.6 765.0,290.8 765.2,305.2 765.4,318.6 765.6,284.5 765.8,277.2 766.0,301.4 766.2,265.8 766.4,255.3 766.6,289.8 766.8,281.2 767.0,295.1 767.2,267.3 767.4,289.4 767.6,267.8 767.8,259.7 768.0,294.2 768.2,299.1 768.4,271.4 768.6,260.1 768.8,252.4 769.0,283.8 769.2,304.0 769.4,303.7 769.6,335.5 769.8,321.5 770.0,298.8 770.2,307.0 770.4,315.8 770.6,337.2 770.8,337.9 771.0,315.9 771.2,339.4 771.4,338.8 771.6,340.9 771.8,336.7 772.0,314.1 772.2,310.3 772.4,342.5 772.6,311.6 772.8,329.3 773.0,334.2 773.2,319.0 773.4,337.0 773.6,337.3 773.8,349.1 774.0,327.4 774.2,324.4 774.4,304.5 774.6,270.4 774.8,309.2 775.0,317.1 775.2,326.9 775.4,333.3 775.6,327.8 775.8,310.7 776.0,340.6 776.2,334.8 776.4,326.3 776.6,339.8 776.8,362.9 777.0,346.9 777.2,350.8 777.4,366.7 777.6,374.6 777.8,363.0 778.0,348.1 778.2,360.0 778.4,352.1 778.6,383.7 778.8,371.8 779.0,360.7 779.2,335.3 779.4,363.1 779.6,393.6 779.8,376.0 780.0,356.9 780.2,320.1 780.4,357.6 780.6,350.2 780.8,369.1 781.0,349.8 781.2,353.4 781.4,357.6 781.5,330.7 781.7,321.7 781.9,321.9 782.1,335.9 782.3,355.0 782.5,345.2 782.7,334.3 782.9,373.4 783.1,351.3 783.3,366.7 783.5,366.0 783.7,384.1 783.9,362.0 784.1,366.4 784.3,374.3 784.5,362.1 784.7,364.3 784.9,353.6 785.1,326.1 785.3,356.0 785.5,355.5 785.7,362.5 785.9,361.8 786.1,362.0 786.3,371.5 786.5,354.6 786.7,366.3 786.9,355.6 787.1,350.0 787.3,349.0 787.5,355.9 787.7,358.1 787.9,348.0 788.1,359.3 788.3,354.1 788.5,357.2 788.7,355.6 788.9,343.3 789.1,325.7 789.3,373.6 789.5,384.9 789.7,362.8 789.9,354.9 790.1,355.6 790.3,372.5 790.5,346.6 790.7,365.5 790.9,350.0 791.1,348.5 791.3,338.7 791.5,359.6 791.7,369.0 791.9,355.7 792.1,334.9 792.3,320.0 792.5,336.4 792.7,346.4 792.9,330.4 793.1,343.6 793.3,332.9 793.5,327.5 793.7,325.8 793.9,347.4 794.1,330.5 794.3,318.0 794.5,322.9 794.7,311.4 794.9,311.2 795.1,310.6 795.3,329.9 795.5,338.7 795.7,325.2 795.9,345.2 796.1,328.8 796.3,350.0 796.5,344.4 796.7,341.1 796.9,327.6 797.1,300.0 797.3,324.1 797.5,319.7 797.7,323.4 797.9,326.5 798.1,322.4 798.3,316.7 798.5,325.3 798.7,319.8 798.9,313.6 799.1,327.0 799.3,315.8 799.5,312.4 799.7,328.5 799.9,313.2 800.1,314.5 800.3,297.9 800.5,316.7 800.7,337.7 800.9,315.1 801.1,310.5 801.3,295.9 801.5,310.7 801.7,281.3 801.9,289.3 802.1,306.0 802.3,328.2 802.5,313.1 802.7,295.9 802.9,278.8 803.1,304.0 803.3,270.6 803.5,269.1 803.7,288.1 803.9,286.1 804.1,263.8 804.3,272.6 804.5,286.5 804.7,277.3 804.9,287.9 805.1,295.3 805.3,305.3 805.5,309.5 805.7,293.7 805.9,280.9 806.1,276.7 806.3,317.7 806.5,276.8 806.7,256.0 806.9,231.4 807.1,280.5 807.3,278.7 807.5,257.6 807.7,243.1 807.9,256.7 808.1,265.4 808.3,272.4 808.5,261.0 808.7,274.6 808.9,291.4 809.1,306.3 809.3,301.1 809.5,302.6 809.7,328.2 809.9,295.8 810.1,300.9 810.3,271.2 810.5,272.4 810.7,277.8 810.9,271.6 811.1,260.2 811.3,272.2 811.5,282.1 811.7,271.0 811.9,298.1 812.1,286.1 812.3,299.1 812.5,289.9 812.7,287.7 812.9,293.1 813.1,287.7 813.3,276.4 813.5,296.2 813.7,298.5 813.9,323.0 814.1,321.2 814.3,301.4 814.5,321.1 814.7,314.0 814.8,315.2 815.0,333.9 815.2,305.4 815.4,313.5 815.6,316.1 815.8,322.1 816.0,305.5 816.2,312.0 816.4,313.5 816.6,306.1 816.8,320.7 817.0,323.9 817.2,312.0 817.4,330.0 817.6,315.5 817.8,323.2 818.0,325.4 818.2,319.7 818.4,326.9 818.6,305.4 818.8,299.9 819.0,280.9 819.2,311.0 819.4,314.3 819.6,293.6 819.8,298.2 820.0,301.4 820.2,290.0 820.4,273.9 820.6,286.5 820.8,290.4 821.0,284.6 821.2,287.8 821.4,289.7 821.6,286.0 821.8,295.5 822.0,296.2 822.2,273.7 822.4,271.2 822.6,293.0 822.8,305.4 823.0,323.8 823.2,299.2 823.4,305.6 823.6,310.3 823.8,303.6 824.0,304.1 824.2,315.1 824.4,278.7 824.6,309.2 824.8,307.1 825.0,312.5 825.2,312.9 825.4,296.5 825.6,285.8 825.8,278.9 826.0,299.3 826.2,265.4 826.4,270.7 826.6,272.2 826.8,268.6 827.0,230.4 827.2,253.5 827.4,278.4 827.6,287.5 827.8,278.7 828.0,297.4 828.2,276.7 828.4,286.4 828.6,292.3 828.8,274.7 829.0,288.7 829.2,282.9 829.4,280.4 829.6,282.9 829.8,298.2 830.0,269.1 830.2,285.8 830.4,300.0 830.6,251.1 830.8,285.5 831.0,317.6 831.2,296.3 831.4,321.7 831.6,294.6 831.8,304.6 832.0,296.1 832.2,289.5 832.4,303.7 832.6,297.6 832.8,277.7 833.0,293.8 833.2,299.2 833.4,303.0 833.6,306.2 833.8,307.8 834.0,320.4 834.2,302.0 834.4,308.5 834.6,322.7 834.8,330.8 835.0,330.5 835.2,319.2 835.4,326.4 835.6,328.9 835.8,317.7 836.0,318.9 836.2,317.0 836.4,310.4 836.6,324.5 836.8,306.6 837.0,300.6 837.2,315.8 837.4,305.0 837.6,318.8 837.8,306.9 838.0,318.4 838.2,313.5 838.4,312.9 838.6,316.2 838.8,305.6 839.0,312.2 839.2,337.7 839.4,344.9 839.6,317.4 839.8,324.0 840.0,337.4 840.2,331.4 840.4,338.3 840.6,321.3 840.8,337.5 841.0,327.0 841.2,340.0 841.4,329.8 841.6,334.2 841.8,328.9 842.0,319.4 842.2,336.4 842.4,324.4 842.6,329.8 842.8,344.3 843.0,320.5 843.2,300.0 843.4,299.0 843.6,311.3 843.8,326.8 844.0,313.0 844.2,319.8 844.4,320.9 844.6,330.6 844.8,326.9 845.0,327.9 845.2,324.1 845.4,318.1 845.6,306.0 845.8,324.8 846.0,347.7 846.2,331.9 846.4,329.9 846.6,321.7 846.8,336.0 847.0,323.6 847.2,332.7 847.4,341.1 847.6,323.0 847.8,341.2 847.9,331.0 848.1,322.4 848.3,341.9 848.5,315.8 848.7,334.9 848.9,328.1 849.1,326.8 849.3,329.0 849.5,318.3 849.7,326.8 849.9,322.6 850.1,340.4 850.3,343.5 850.5,343.6 850.7,368.4 850.9,347.8 851.1,342.7 851.3,351.8 851.5,358.2 851.7,346.9 851.9,345.4 852.1,334.7 852.3,354.1 852.5,349.9 852.7,347.4 852.9,344.6 853.1,348.4 853.3,353.5 853.5,351.2 853.7,343.5 853.9,340.7 854.1,345.2 854.3,332.9 854.5,326.5 854.7,327.9 854.9,344.7 855.1,373.3 855.3,361.3 855.5,340.9 855.7,356.6 855.9,363.1 856.1,363.7 856.3,347.0 856.5,357.7 856.7,333.7 856.9,348.3 857.1,357.9 857.3,362.9 857.5,353.7 857.7,350.2 857.9,363.8 858.1,338.2 858.3,357.1 858.5,384.0 858.7,392.8 858.9,366.2 859.1,371.4 859.3,388.1 859.5,359.2 859.7,369.6 859.9,370.8 860.1,341.0 860.3,371.2 860.5,363.4 860.7,360.0 860.9,369.1 861.1,370.0 861.3,367.7 861.5,361.6 861.7,383.1 861.9,362.1 862.1,363.4 862.3,359.5 862.5,361.9 862.7,359.8 862.9,359.6 863.1,346.2 863.3,358.6 863.5,350.1 863.7,353.1 863.9,364.9 864.1,355.2 864.3,352.2 864.5,354.9"/>
<polyline id="s-blue" fill="none" stroke="#0000ff" stroke-width="1.5" stroke-linejoin="round" points="266.3,92.0 266.5,99.4 266.7,112.3 266.9,106.2 267.1,116.9 267.3,98.7 267.5,92.7 267.7,111.7 267.9,115.0 268.1,128.9 268.3,124.2 268.5,109.4 268.7,164.8 268.9,132.6 269.1,130.4 269.3,135.9 269.5,124.9 269.7,130.1 269.9,126.3 270.1,129.3 270.3,112.2 270.5,100.5 270.7,119.2 270.9,124.1 271.1,137.7 271.3,158.0 271.5,137.8 271.7,138.3 271.9,103.6 272.1,117.4 272.3,129.6 272.5,126.9 272.7,130.5 272.9,115.9 273.1,136.5 273.3,124.6 273.5,142.2 273.7,151.6 273.9,130.7 274.1,135.0 274.3,135.8 274.5,134.1 274.7,130.0 274.9,138.1 275.1,152.3 275.3,146.8 275.5,165.0 275.7,177.3 275.9,151.9 276.1,143.3 276.3,156.7 276.5,147.4 276.7,137.7 276.9,135.6 277.1,135.3 277.3,120.7 277.5,133.8 277.7,136.4 277.9,153.2 278.1,157.6 278.3,145.4 278.5,169.1 278.7,140.8 278.9,146.5 279.1,144.8 279.3,152.8 279.5,148.3 279.7,155.5 279.9,154.1 280.1,156.0 280.3,163.2 280.5,150.1 280.7,144.3 280.9,145.3 281.1,142.3 281.3,134.9 281.5,136.6 281.7,115.7 281.9,136.0 282.1,147.4 282.3,135.9 282.5,142.9 282.7,136.2 282.9,150.1 283.0,133.4 283.2,141.9 283.4,125.5 283.6,130.4 283.8,158.4 284.0,125.1 284.2,111.3 284.4,119.4 284.6,126.9 284.8,128.1 285.0,127.8 285.2,142.5 285.4,142.8 285.6,135.0 285.8,150.8 286.0,136.6 286.2,125.5 286.4,135.0 286.6,137.3 286.8,133.2 287.0,100.9 287.2,121.5 287.4,134.9 287.6,139.1 287.8,136.4 288.0,144.8 288.2,131.0 288.4,142.3 288.6,127.2 288.8,143.3 289.0,132.1 289.2,149.7 289.4,143.5 289.6,130.2 289.8,146.0 290.0,132.0 290.2,132.8 290.4,132.0 290.6,136.3 290.8,150.0 291.0,137.3 291.2,144.4 291.4,148.6 291.6,129.5 291.8,138.3 292.0,125.0 292.2,105.1 292.4,114.7 292.6,122.2 292.8,134.6 293.0,126.8 293.2,131.7 293.4,140.6 293.6,136.6 293.8,148.4 294.0,142.2 294.2,130.7 294.4,99.9 294.6,120.9 294.8,133.2 295.0,131.9 295.2,143.2 295.4,141.2 295.6,121.4 295.8,134.9 296.0,142.4 296.2,132.5 296.4,134.9 296.6,131.8 296.8,144.3 297.0,144.8 297.2,143.7 297.4,136.3 297.6,123.6 297.8,137.4 298.0,145.4 298.2,149.8 298.4,131.6 298.6,126.3 298.8,124.7 299.0,119.7 299.2,105.1 299.4,121.8 299.6,128.5 299.8,121.9 300.0,108.1 300.2,128.3 300.4,123.7 300.6,112.9 300.8,134.1 301.0,122.5 301.2,123.7 301.4,122.4 301.6,107.6 301.8,123.9 302.0,131.3 302.2,133.4 302.4,128.4 302.6,142.5 302.8,146.8 303.0,135.1 303.2,143.1 303.4,145.1 303.6,145.6 303.8,136.0 304.0,139.2 304.2,148.8 304.4,143.9 304.6,159.4 304.8,155.7 305.0,170.7 305.2,153.2 305.4,156.4 305.6,151.1 305.8,105.8 306.0,140.7 306.2,132.6 306.4,130.3 306.6,125.8 306.8,104.6 307.0,115.7 307.2,96.9 307.4,101.1 307.6,96.6 307.8,101.5 308.0,119.4 308.2,109.1 308.4,115.6 308.6,112.7 308.8,112.2 309.0,120.9 309.2,123.2 309.4,96.4 309.6,124.3 309.8,131.0 310.0,114.7 310.2,124.5 310.4,134.5 310.6,134.3 310.8,134.0 311.0,124.6 311.2,131.7 311.4,125.2 311.6,107.9 311.8,104.7 312.0,92.3 312.2,103.1 312.4,89.1 312.6,97.9 312.8,88.1 313.0,92.1 313.2,88.6 313.4,85.5 313.6,94.6 313.8,103.3 314.0,94.8 314.2,108.5 314.4,106.9 314.6,116.7 314.8,129.8 315.0,114.0 315.2,104.0 315.4,106.2 315.6,117.0 315.8,111.4 316.0,103.7 316.2,96.2 316.3,105.0 316.5,117.2 316.7,120.3 316.9,124.0 317.1,123.5 317.3,128.8 317.5,120.8 317.7,115.9 317.9,124.8 318.1,134.2 318.3,133.6 318.5,130.5 318.7,130.1 318.9,126.1 319.1,137.9 319.3,141.9 319.5,137.0 319.7,145.1 319.9,143.5 320.1,136.9 320.3,144.2 320.5,138.0 320.7,148.9 320.9,146.3 321.1,141.1 321.3,149.0 321.5,152.5 321.7,168.6 321.9,158.7 322.1,147.5 322.3,153.9 322.5,145.7 322.7,153.3 322.9,151.9 323.1,151.9 323.3,141.3 323.5,150.5 323.7,153.3 323.9,155.7 324.1,160.3 324.3,155.1 324.5,154.9 324.7,169.6 324.9,161.5 325.1,142.6 325.3,154.0 325.5,154.8 325.7,157.8 325.9,151.3 326.1,155.6 326.3,150.9 326.5,158.5 326.7,159.6 326.9,161.7 327.1,174.9 327.3,167.8 327.5,160.2 327.7,160.1 327.9,162.6 328.1,139.2 328.3,147.0 328.5,159.1 328.7,157.2 328.9,164.3 329.1,164.7 329.3,161.8 329.5,169.1 329.7,174.5 329.9,159.3 330.1,173.7 330.3,157.2 330.5,147.8 330.7,134.3 330.9,151.9 331.1,169.6 331.3,168.9 331.5,180.0 331.7,170.9 331.9,174.5 332.1,163.6 332.3,183.2 332.5,164.0 332.7,182.4 332.9,184.6 333.1,185.7 333.3,162.0 333.5,145.5 333.7,174.7 333.9,177.1 334.1,188.8 334.3,180.9 334.5,185.0 334.7,184.5 334.9,189.9 335.1,190.8 335.3,196.5 335.5,185.8 335.7,190.1 335.9,199.5 336.1,185.3 336.3,198.5 336.5,201.2 336.7,191.0 336.9,192.5 337.1,194.6 337.3,154.2 337.5,189.9 337.7,173.0 337.9,177.8 338.1,190.5 338.3,180.0 338.5,186.2 338.7,196.7 338.9,160.2 339.1,191.2 339.3,176.9 339.5,181.4 339.7,181.1 339.9,190.1 340.1,195.0 340.3,181.3 340.5,189.4 340.7,192.0 340.9,198.3 341.1,207.7 341.3,187.2 341.5,178.6 341.7,187.6 341.9,181.1 342.1,171.2 342.3,174.0 342.5,174.8 342.7,186.3 342.9,167.2 343.1,180.3 343.3,193.2 343.5,193.1 343.7,198.4 343.9,207.2 344.1,205.4 344.3,206.2 344.5,214.9 344.7,187.9 344.9,169.1 345.1,203.5 345.3,218.8 345.5,210.8 345.7,203.3 345.9,203.2 346.1,216.1 346.3,208.7 346.5,194.8 346.7,189.5 346.9,198.8 347.1,193.6 347.3,171.6 347.5,201.4 347.7,194.5 347.9,170.6 348.1,166.2 348.3,187.1 348.5,169.3 348.7,170.9 348.9,180.4 349.1,165.8 349.3,179.6 349.4,187.9 349.6,175.3 349.8,184.1 350.0,190.4 350.2,192.9 350.4,205.5 350.6,213.3 350.8,192.1 351.0,190.5 351.2,189.5 351.4,212.9 351.6,185.9 351.8,200.6 352.0,196.4 352.2,195.6 352.4,191.1 352.6,193.7 352.8,192.2 353.0,202.2 353.2,187.4 353.4,181.5 353.6,181.6 353.8,191.9 354.0,176.4 354.2,160.5 354.4,183.3 354.6,179.8 354.8,167.0 355.0,179.8 355.2,176.1 355.4,197.9 355.6,209.5 355.8,195.1 356.0,179.6 356.2,173.3 356.4,192.3 356.6,191.4 356.8,192.8 357.0,188.4 357.2,192.4 357.4,177.4 357.6,190.2 357.8,178.5 358.0,183.8 358.2,182.7 358.4,159.4 358.6,166.8 358.8,188.7 359.0,187.6 359.2,202.7 359.4,182.0 359.6,177.3 359.8,187.9 360.0,183.0 360.2,173.1 360.4,184.1 360.6,189.4 360.8,185.6 361.0,190.7 361.2,185.7 361.4,186.1 361.6,173.5 361.8,178.5 362.0,175.8 362.2,165.6 362.4,154.6 362.6,176.6 362.8,178.2 363.0,198.7 363.2,186.2 363.4,181.2 363.6,198.5 363.8,180.8 364.0,182.3 364.2,192.8 364.4,195.0 364.6,192.7 364.8,193.9 365.0,192.7 365.2,193.8 365.4,203.6 365.6,206.3 365.8,193.2 366.0,195.0 366.2,199.1 366.4,187.7 366.6,176.7 366.8,185.5 367.0,174.2 367.2,162.5 367.4,189.0 367.6,165.2 367.8,177.8 368.0,174.9 368.2,171.2 368.4,191.8 368.6,181.4 368.8,203.0 369.0,189.5 369.2,193.2 369.4,175.8 369.6,198.8 369.8,193.6 370.0,172.5 370.2,209.4 370.4,204.7 370.6,191.1 370.8,193.2 371.0,194.0 371.2,212.9 371.4,204.3 371.6,200.2 371.8,213.0 372.0,191.3 372.2,198.6 372.4,195.4 372.6,185.3 372.8,181.2 373.0,200.4 373.2,185.5 373.4,178.9 373.6,174.2 373.8,172.1 374.0,203.5 374.2,170.4 374.4,174.3 374.6,179.6 374.8,172.6 375.0,180.0 375.2,158.5 375.4,174.4 375.6,164.3 375.8,163.2 376.0,154.5 376.2,151.5 376.4,163.9 376.6,170.3 376.8,163.6 377.0,141.8 377.2,151.0 377.4,165.5 377.6,167.9 377.8,159.7 378.0,152.7 378.2,174.6 378.4,177.8 378.6,182.7 378.8,189.0 379.0,179.8 379.2,177.1 379.4,179.5 379.6,183.6 379.8,184.6 380.0,184.7 380.2,190.0 380.4,186.6 380.6,189.0 380.8,178.2 381.0,176.4 381.2,162.7 381.4,150.3 381.6,145.9 381.8,151.8 382.0,165.9 382.2,150.9 382.4,180.5 382.6,160.5 382.7,146.0 382.9,157.4 383.1,183.5 383.3,161.8 383.5,157.9 383.7,179.6 383.9,171.7 384.1,165.3 384.3,170.4 384.5,191.8 384.7,193.2 384.9,193.9 385.1,172.7 385.3,180.0 385.5,193.2 385.7,198.2 385.9,193.7 386.1,209.8 386.3,192.3 386.5,185.0 386.7,165.3 386.9,188.7 387.1,195.6 387.3,185.3 387.5,191.2 387.7,181.2 387.9,184.2 388.1,184.6 388.3,185.8 388.5,189.3 388.7,195.0 388.9,194.6 389.1,183.1 389.3,196.4 389.5,195.1 389.7,193.0 389.9,171.9 390.1,195.7 390.3,182.9 390.5,179.4 390.7,183.2 390.9,174.9 391.1,197.3 391.3,185.2 391.5,190.8 391.7,190.3 391.9,185.3 392.1,192.0 392.3,203.3 392.5,191.2 392.7,204.3 392.9,212.4 393.1,219.6 393.3,203.3 393.5,201.6 393.7,188.6 393.9,205.5 394.1,196.3 394.3,186.2 394.5,193.8 394.7,202.9 394.9,200.3 395.1,207.2 395.3,200.2 395.5,196.3 395.7,189.9 395.9,213.2 396.1,210.8 396.3,188.1 396.5,185.1 396.7,207.9 396.9,228.9 397.1,205.1 397.3,214.7 397.5,211.0 397.7,219.1 397.9,219.7 398.1,214.5 398.3,218.2 398.5,219.7 398.7,220.2 398.9,208.5 399.1,201.2 399.3,192.6 399.5,216.3 399.7,231.7 399.9,218.9 400.1,213.1 400.3,221.2 400.5,210.4 400.7,216.8 400.9,220.7 401.1,212.8 401.3,215.3 401.5,208.7 401.7,198.3 401.9,199.3 402.1,212.2 402.3,211.9 402.5,227.7 402.7,206.7 402.9,218.3 403.1,200.4 403.3,195.2 403.5,202.8 403.7,215.6 403.9,203.0 404.1,216.9 404.3,210.6 404.5,210.2 404.7,216.1 404.9,210.7 405.1,219.7 405.3,208.3 405.5,205.4 405.7,211.1 405.9,202.1 406.1,199.1 406.3,203.1 406.5,204.8 406.7,203.6 406.9,194.4 407.1,197.4 407.3,195.0 407.5,196.0 407.7,207.7 407.9,200.2 408.1,207.3 408.3,204.4 408.5,206.7 408.7,205.8 408.9,206.4 409.1,218.7 409.3,202.6 409.5,188.9 409.7,194.6 409.9,197.5 410.1,206.0 410.3,202.6 410.5,202.1 410.7,201.9 410.9,203.3 411.1,195.3 411.3,196.7 411.5,200.2 411.7,200.5 411.9,195.7 412.1,213.4 412.3,202.0 412.5,201.1 412.7,187.0 412.9,180.8 413.1,195.8 413.3,194.3 413.5,199.8 413.7,191.7 413.9,203.7 414.1,190.3 414.3,197.8 414.5,191.0 414.7,191.9 414.9,187.5 415.1,178.8 415.3,180.8 415.5,188.9 415.7,174.8 415.9,165.3 416.0,181.4 416.2,188.4 416.4,178.6 416.6,197.0 416.8,177.8 417.0,188.2 417.2,197.7 417.4,162.3 417.6,177.5 417.8,175.4 418.0,168.7 418.2,177.0 418.4,171.0 418.6,152.1 418.8,176.0 419.0,172.8 419.2,182.5 419.4,175.7 419.6,173.4 419.8,187.4 420.0,186.3 420.2,199.3 420.4,208.1 420.6,187.5 420.8,195.9 421.0,165.5 421.2,187.8 421.4,208.0 421.6,199.2 421.8,198.6 422.0,199.2 422.2,226.2 422.4,219.5 422.6,241.4 422.8,211.2 423.0,221.3 423.2,208.1 423.4,187.9 423.6,209.0 423.8,196.0 424.0,206.7 424.2,205.9 424.4,227.0 424.6,210.1 424.8,160.8 425.0,202.2 425.2,206.3 425.4,215.7 425.6,215.4 425.8,222.1 426.0,217.3 426.2,243.2 426.4,222.1 426.6,211.4 426.8,214.0 427.0,195.3 427.2,177.0 427.4,204.9 427.6,217.6 427.8,174.2 428.0,171.0 428.2,151.3 428.4,205.1 428.6,200.3 428.8,187.3 429.0,190.8 429.2,191.2 429.4,188.3 429.6,179.9 429.8,183.1 430.0,193.0 430.2,200.9 430.4,188.1 430.6,191.8 430.8,200.5 431.0,200.3 431.2,221.3 431.4,233.6 431.6,209.7 431.8,198.1 432.0,187.4 432.2,180.4 432.4,194.5 432.6,203.3 432.8,176.5 433.0,171.1 433.2,196.3 433.4,180.8 433.6,192.1 433.8,201.0 434.0,207.2 434.2,218.9 434.4,214.9 434.6,221.2 434.8,211.9 435.0,207.6 435.2,202.0 435.4,213.9 435.6,202.8 435.8,205.0 436.0,199.5 436.2,190.1 436.4,206.6 436.6,203.0 436.8,197.1 437.0,231.7 437.2,247.8 437.4,251.8 437.6,242.2 437.8,219.7 438.0,237.4 438.2,247.1 438.4,239.8 438.6,221.2 438.8,242.1 439.0,235.1 439.2,249.2 439.4,242.5 439.6,244.9 439.8,279.3 440.0,236.5 440.2,239.7 440.4,258.5 440.6,240.9 440.8,226.9 441.0,236.9 441.2,231.4 441.4,240.5 441.6,243.9 441.8,192.2 442.0,214.0 442.2,228.1 442.4,218.0 442.6,199.8 442.8,212.1 443.0,219.6 443.2,207.8 443.4,228.9 443.6,277.7 443.8,245.9 444.0,247.3 444.2,241.9 444.4,238.1 444.6,229.4 444.8,242.6 445.0,236.8 445.2,218.2 445.4,265.7 445.6,260.1 445.8,270.0 446.0,242.5 446.2,245.8 446.4,258.8 446.6,260.1 446.8,285.0 447.0,266.3 447.2,251.8 447.4,252.6 447.6,255.8 447.8,257.0 448.0,260.5 448.2,233.5 448.4,251.6 448.6,238.2 448.8,247.0 449.0,249.1 449.1,276.6 449.3,258.5 449.5,238.1 449.7,275.1 449.9,267.1 450.1,271.7 450.3,262.5 450.5,267.8 450.7,265.7 450.9,285.0 451.1,299.2 451.3,273.0 451.5,276.7 451.7,269.8 451.9,283.1 452.1,269.4 452.3,274.9 452.5,287.6 452.7,304.8 452.9,292.6 453.1,273.8 453.3,271.0 453.5,285.8 453.7,284.9 453.9,276.2 454.1,250.1 454.3,281.5 454.5,300.4 454.7,277.8 454.9,286.7 455.1,320.7 455.3,304.9 455.5,277.7 455.7,261.7 455.9,252.3 456.1,301.7 456.3,354.7 456.5,300.3 456.7,303.3 456.9,273.9 457.1,284.5 457.3,303.3 457.5,235.2 457.7,254.7 457.9,291.5 458.1,293.4 458.3,280.7 458.5,264.6 458.7,263.1 458.9,283.5 459.1,272.1 459.3,267.4 459.5,281.0 459.7,238.9 459.9,259.0 460.1,210.9 460.3,243.2 460.5,255.4 460.7,247.2 460.9,254.3 461.1,235.8 461.3,259.0 461.5,278.3 461.7,232.5 461.9,232.9 462.1,256.7 462.3,246.4 462.5,235.8 462.7,257.6 462.9,242.7 463.1,224.8 463.3,232.4 463.5,233.1 463.7,232.3 463.9,237.0 464.1,217.9 464.3,193.0 464.5,237.5 464.7,213.8 464.9,221.1 465.1,221.4 465.3,220.7 465.5,202.1 465.7,224.2 465.9,204.4 466.1,245.5 466.3,262.6 466.5,236.7 466.7,234.4 466.9,233.1 467.1,223.2 467.3,226.4 467.5,237.4 467.7,237.6 467.9,251.9 468.1,247.2 468.3,250.5 468.5,230.1 468.7,217.6 468.9,230.5 469.1,238.2 469.3,240.4 469.5,251.5 469.7,252.5 469.9,272.9 470.1,248.0 470.3,252.4 470.5,268.4 470.7,247.4 470.9,283.3 471.1,273.9 471.3,290.2 471.5,275.8 471.7,282.0 471.9,293.3 472.1,263.0 472.3,276.6 472.5,282.7 472.7,268.1 472.9,275.2 473.1,257.0 473.3,235.9 473.5,258.2 473.7,283.5 473.9,269.8 474.1,255.0 474.3,273.0 474.5,284.3 474.7,305.4 474.9,314.8 475.1,310.8 475.3,311.1 475.5,312.7 475.7,301.9 475.9,297.9 476.1,300.9 476.3,290.9 476.5,291.1 476.7,310.5 476.9,312.3 477.1,307.7 477.3,293.5 477.5,298.2 477.7,320.9 477.9,301.3 478.1,309.5 478.3,298.2 478.5,292.6 478.7,296.6 478.9,300.4 479.1,316.1 479.3,307.3 479.5,350.0 479.7,325.0 479.9,282.7 480.1,304.4 480.3,319.1 480.5,324.8 480.7,312.3 480.9,316.5 481.1,323.0 481.3,300.3 481.5,317.3 481.7,351.8 481.9,342.1 482.1,363.3 482.3,373.9 482.4,346.2 482.6,336.6 482.8,352.7 483.0,345.9 483.2,334.9 483.4,326.6 483.6,332.0 483.8,339.7 484.0,353.0 484.2,348.5 484.4,348.9 484.6,369.1 484.8,354.6 485.0,343.9 485.2,334.5 485.4,335.8 485.6,345.8 485.8,332.5 486.0,318.9 486.2,330.9 486.4,345.8 486.6,353.6 486.8,327.6 487.0,343.8 487.2,353.2 487.4,346.5 487.6,337.9 487.8,329.2 488.0,333.2 488.2,331.7 488.4,330.4 488.6,333.8 488.8,310.9 489.0,316.7 489.2,335.6 489.4,330.8 489.6,342.7 489.8,320.5 490.0,332.0 490.2,311.5 490.4,314.9 490.6,311.3 490.8,300.2 491.0,316.2 491.2,312.5 491.4,290.7 491.6,296.2 491.8,314.3 492.0,324.0 492.2,310.9 492.4,292.4 492.6,270.3 492.8,301.3 493.0,260.5 493.2,280.7 493.4,301.9 493.6,307.3 493.8,278.8 494.0,299.5 494.2,288.1 494.4,298.6 494.6,286.2 494.8,280.8 495.0,267.7 495.2,284.3 495.4,250.5 495.6,238.5 495.8,259.3 496.0,268.0 496.2,290.8 496.4,298.6 496.6,272.2 496.8,312.8 497.0,294.3 497.2,292.0 497.4,306.8 497.6,313.0 497.8,286.2 498.0,288.1 498.2,281.5 498.4,262.1 498.6,262.9 498.8,271.5 499.0,278.3 499.2,260.6 499.4,274.3 499.6,286.2 499.8,253.0 500.0,260.4 500.2,253.8 500.4,309.6 500.6,292.6 500.8,264.7 501.0,271.5 501.2,270.2 501.4,274.4 501.6,281.0 501.8,301.9 502.0,273.2 502.2,281.6 502.4,274.4 502.6,287.2 502.8,289.8 503.0,279.3 503.2,287.5 503.4,282.3 503.6,270.0 503.8,279.3 504.0,269.1 504.2,270.6 504.4,280.1 504.6,292.5 504.8,303.8 505.0,277.6 505.2,288.2 505.4,287.7 505.6,265.3 505.8,272.0 506.0,238.3 506.2,265.9 506.4,254.0 506.6,265.9 506.8,251.7 507.0,250.5 507.2,253.7 507.4,252.6 507.6,268.3 507.8,245.8 508.0,251.9 508.2,262.3 508.4,266.4 508.6,257.7 508.8,265.0 509.0,271.5 509.2,281.7 509.4,299.2 509.6,278.7 509.8,291.3 510.0,279.1 510.2,259.0 510.4,271.7 510.6,269.0 510.8,234.4 511.0,255.6 511.2,266.3 511.4,268.2 511.6,270.4 511.8,264.5 512.0,246.6 512.2,287.8 512.4,269.8 512.6,280.9 512.8,289.9 513.0,286.9 513.2,288.7 513.4,282.2 513.6,280.9 513.8,284.7 514.0,276.0 514.2,306.0 514.4,290.0 514.6,286.4 514.8,270.9 515.0,276.6 515.2,286.6 515.4,268.5 515.6,282.5 515.7,245.3 515.9,253.9 516.1,285.0 516.3,261.4 516.5,250.2 516.7,259.4 516.9,280.8 517.1,266.1 517.3,278.2 517.5,272.0 517.7,284.1 517.9,310.9 518.1,269.7 518.3,287.5 518.5,311.2 518.7,323.2 518.9,309.7 519.1,310.7 519.3,307.7 519.5,304.2 519.7,308.7 519.9,300.5 520.1,290.8 520.3,291.1 520.5,273.0 520.7,299.7 520.9,310.3 521.1,269.7 521.3,299.9 521.5,259.8 521.7,292.1 521.9,297.2 522.1,289.8 522.3,289.6 522.5,323.1 522.7,350.6 522.9,316.5 523.1,240.5 523.3,273.9 523.5,257.1 523.7,256.0 523.9,286.5 524.1,304.5 524.3,255.0 524.5,295.6 524.7,309.6 524.9,278.5 525.1,279.5 525.3,268.0 525.5,262.7 525.7,266.2 525.9,257.8 526.1,288.3 526.3,251.6 526.5,227.3 526.7,264.3 526.9,255.4 527.1,274.4 527.3,255.7 527.5,292.0 527.7,268.1 527.9,278.3 528.1,261.6 528.3,256.4 528.5,255.8 528.7,275.7 528.9,272.2 529.1,253.6 529.3,244.7 529.5,245.6 529.7,235.1 529.9,261.5 530.1,258.4 530.3,267.0 530.5,276.8 530.7,308.4 530.9,314.1 531.1,308.0 531.3,296.3 531.5,280.6 531.7,289.3 531.9,274.3 532.1,264.8 532.3,273.8 532.5,283.5 532.7,261.9 532.9,268.7 533.1,255.0 533.3,272.8 533.5,266.9 533.7,246.2 533.9,252.0 534.1,266.8 534.3,265.2 534.5,277.9 534.7,282.6 534.9,305.6 535.1,329.3 535.3,284.5 535.5,259.3 535.7,269.4 535.9,281.5 536.1,277.0 536.3,245.0 536.5,281.7 536.7,262.7 536.9,243.0 537.1,268.2 537.3,279.6 537.5,281.4 537.7,275.0 537.9,281.6 538.1,300.9 538.3,254.8 538.5,273.7 538.7,278.5 538.9,297.0 539.1,296.8 539.3,273.6 539.5,270.4 539.7,289.2 539.9,348.1 540.1,318.6 540.3,276.6 540.5,269.6 540.7,300.5 540.9,256.2 541.1,235.2 541.3,280.2 541.5,269.1 541.7,238.8 541.9,295.9 542.1,291.3 542.3,273.3 542.5,261.7 542.7,295.9 542.9,266.3 543.1,283.2 543.3,281.7 543.5,318.1 543.7,288.9 543.9,246.4 544.1,263.3 544.3,247.7 544.5,249.2 544.7,236.6 544.9,258.1 545.1,226.4 545.3,247.1 545.5,242.9 545.7,280.6 545.9,268.2 546.1,278.2 546.3,222.7 546.5,298.9 546.7,291.2 546.9,276.6 547.1,309.8 547.3,285.5 547.5,295.8 547.7,270.2 547.9,269.2 548.1,270.0 548.3,263.9 548.5,288.2 548.7,261.2 548.8,243.7 549.0,271.3 549.2,277.8 549.4,249.9 549.6,263.9 549.8,279.4 550.0,268.5 550.2,239.9 550.4,251.2 550.6,259.8 550.8,313.3 551.0,298.0 551.2,283.6 551.4,274.2 551.6,304.8 551.8,271.3 552.0,284.6 552.2,283.0 552.4,295.7 552.6,290.2 552.8,300.0 553.0,235.0 553.2,298.3 553.4,349.8 553.6,325.6 553.8,283.1 554.0,290.1 554.2,327.4 554.4,312.6 554.6,294.6 554.8,293.7 555.0,296.4 555.2,310.4 555.4,287.1 555.6,314.0 555.8,307.2 556.0,319.4 556.2,292.9 556.4,279.3 556.6,278.2 556.8,271.5 557.0,240.2 557.2,266.1 557.4,258.5 557.6,282.0 557.8,285.1 558.0,284.5 558.2,265.8 558.4,291.2 558.6,292.4 558.8,259.1 559.0,285.3 559.2,292.4 559.4,275.0 559.6,261.1 559.8,286.2 560.0,247.0 560.2,264.6 560.4,277.5 560.6,273.1 560.8,262.7 561.0,254.5 561.2,279.5 561.4,273.9 561.6,268.3 561.8,238.4 562.0,270.6 562.2,267.0 562.4,313.6 562.6,284.3 562.8,287.7 563.0,265.5 563.2,278.2 563.4,263.1 563.6,301.9 563.8,280.0 564.0,279.8 564.2,284.4 564.4,241.4 564.6,276.0 564.8,260.7 565.0,266.9 565.2,246.9 565.4,238.4 565.6,273.4 565.8,266.0 566.0,272.3 566.2,261.4 566.4,231.3 566.6,278.9 566.8,277.6 567.0,268.9 567.2,309.9 567.4,283.1 567.6,243.6 567.8,272.5 568.0,277.9 568.2,297.5 568.4,275.5 568.6,227.6 568.8,258.8 569.0,287.3 569.2,318.5 569.4,287.0 569.6,295.5 569.8,307.3 570.0,303.6 570.2,288.8 570.4,298.6 570.6,311.3 570.8,289.6 571.0,309.8 571.2,271.3 571.4,281.5 571.6,268.6 571.8,338.1 572.0,285.3 572.2,265.3 572.4,245.6 572.6,261.1 572.8,257.7 573.0,287.5 573.2,298.5 573.4,287.1 573.6,271.1 573.8,276.9 574.0,297.1 574.2,269.1 574.4,257.9 574.6,276.9 574.8,307.6 575.0,303.4 575.2,321.8 575.4,264.4 575.6,308.6 575.8,301.4 576.0,288.1 576.2,281.3 576.4,266.3 576.6,298.2 576.8,305.3 577.0,364.4 577.2,302.9 577.4,322.2 577.6,287.5 577.8,289.4 578.0,308.3 578.2,318.1 578.4,300.6 578.6,343.5 578.8,324.3 579.0,342.3 579.2,360.6 579.4,349.2 579.6,378.6 579.8,356.8 580.0,380.8 580.2,355.9 580.4,360.1 580.6,317.2 580.8,304.0 581.0,337.7 581.2,280.1 581.4,302.9 581.6,330.2 581.8,320.8 582.0,327.7 582.1,329.7 582.3,320.8 582.5,323.9 582.7,320.8 582.9,290.4 583.1,361.0 583.3,311.1 583.5,344.8 583.7,343.3 583.9,374.3 584.1,331.9 584.3,323.7 584.5,312.3 584.7,313.6 584.9,314.9 585.1,348.1 585.3,309.9 585.5,307.8 585.7,332.5 585.9,330.9 586.1,330.3 586.3,310.9 586.5,333.4 586.7,293.4 586.9,295.6 587.1,313.8 587.3,312.7 587.5,294.4 587.7,301.1 587.9,316.5 588.1,294.8 588.3,325.6 588.5,369.1 588.7,331.0 588.9,293.8 589.1,310.2 589.3,336.7 589.5,311.4 589.7,327.5 589.9,303.0 590.1,335.9 590.3,305.1 590.5,312.3 590.7,290.3 590.9,328.8 591.1,361.7 591.3,333.3 591.5,333.4 591.7,371.9 591.9,341.5 592.1,353.2 592.3,349.6 592.5,345.2 592.7,371.8 592.9,372.7 593.1,372.8 593.3,373.0 593.5,338.2 593.7,353.9 593.9,355.2 594.1,354.3 594.3,351.2 594.5,339.5 594.7,335.7 594.9,350.3 595.1,341.7 595.3,374.7 595.5,332.6 595.7,317.0 595.9,330.3 596.1,332.5 596.3,304.2 596.5,281.3 596.7,289.9 596.9,265.1 597.1,322.9 597.3,337.7 597.5,285.3 597.7,303.5 597.9,289.6 598.1,281.2 598.3,284.6 598.5,235.7 598.7,282.9 598.9,240.8 599.1,262.6 599.3,288.4 599.5,273.3 599.7,252.7 599.9,244.4 600.1,246.9 600.3,264.9 600.5,289.9 600.7,235.3 600.9,200.7 601.1,219.7 601.3,230.7 601.5,234.4 601.7,228.9 601.9,242.1 602.1,226.6 602.3,231.6 602.5,222.8 602.7,255.5 602.9,227.1 603.1,231.4 603.3,213.0 603.5,232.3 603.7,215.3 603.9,250.2 604.1,244.9 604.3,252.2 604.5,230.3 604.7,260.5 604.9,287.8 605.1,275.2 605.3,259.2 605.5,275.4 605.7,251.1 605.9,261.5 606.1,263.4 606.3,259.9 606.5,277.3 606.7,247.5 606.9,263.6 607.1,271.0 607.3,291.8 607.5,240.2 607.7,253.5 607.9,262.9 608.1,256.4 608.3,259.7 608.5,269.8 608.7,274.3 608.9,254.8 609.1,242.4 609.3,258.7 609.5,258.2 609.7,234.4 609.9,247.2 610.1,248.8 610.3,261.8 610.5,261.6 610.7,255.8 610.9,249.3 611.1,235.5 611.3,254.7 611.5,282.4 611.7,267.3 611.9,277.1 612.1,269.7 612.3,293.5 612.5,262.9 612.7,261.3 612.9,249.0 613.1,238.1 613.3,257.0 613.5,274.0 613.7,296.6 613.9,272.2 614.1,265.6 614.3,276.8 614.5,271.0 614.7,263.2 614.9,276.1 615.1,266.0 615.2,257.9 615.4,272.4 615.6,268.8 615.8,257.5 616.0,262.8 616.2,259.1 616.4,255.0 616.6,252.4 616.8,249.3 617.0,261.5 617.2,280.8 617.4,266.6 617.6,287.8 617.8,289.5 618.0,309.4 618.2,324.1 618.4,283.8 618.6,272.9 618.8,262.3 619.0,272.5 619.2,285.2 619.4,287.5 619.6,274.6 619.8,296.5 620.0,304.3 620.2,320.3 620.4,283.5 620.6,318.5 620.8,344.8 621.0,315.2 621.2,318.0 621.4,298.7 621.6,347.1 621.8,370.8 622.0,322.8 622.2,272.6 622.4,278.4 622.6,290.9 622.8,269.8 623.0,292.6 623.2,273.3 623.4,269.1 623.6,256.8 623.8,293.6 624.0,299.2 624.2,255.1 624.4,254.5 624.6,280.8 624.8,308.3 625.0,299.2 625.2,296.0 625.4,289.8 625.6,284.0 625.8,278.3 626.0,294.3 626.2,249.1 626.4,282.3 626.6,327.9 626.8,284.7 627.0,262.1 627.2,300.4 627.4,264.3 627.6,274.2 627.8,284.9 628.0,274.3 628.2,262.2 628.4,279.0 628.6,286.1 628.8,298.3 629.0,303.1 629.2,289.9 629.4,292.7 629.6,268.3 629.8,295.9 630.0,296.3 630.2,299.1 630.4,262.6 630.6,283.0 630.8,269.6 631.0,267.9 631.2,273.4 631.4,264.1 631.6,259.9 631.8,256.7 632.0,230.1 632.2,229.8 632.4,251.8 632.6,266.3 632.8,267.5 633.0,271.3 633.2,280.6 633.4,268.1 633.6,265.5 633.8,278.0 634.0,283.6 634.2,262.0 634.4,270.6 634.6,269.9 634.8,281.4 635.0,292.5 635.2,273.4 635.4,265.8 635.6,232.3 635.8,271.6 636.0,268.1 636.2,283.5 636.4,291.9 636.6,268.6 636.8,267.2 637.0,274.2 637.2,295.1 637.4,281.2 637.6,264.1 637.8,286.3 638.0,274.8 638.2,297.7 638.4,293.8 638.6,284.3 638.8,296.9 639.0,285.4 639.2,270.6 639.4,292.6 639.6,299.4 639.8,293.6 640.0,271.4 640.2,256.2 640.4,271.5 640.6,258.7 640.8,254.9 641.0,245.0 641.2,255.2 641.4,251.2 641.6,263.7 641.8,256.8 642.0,248.9 642.2,259.2 642.4,278.3 642.6,268.2 642.8,260.8 643.0,271.8 643.2,303.5 643.4,277.5 643.6,280.1 643.8,277.1 644.0,247.9 644.2,267.0 644.4,247.3 644.6,247.1 644.8,261.7 645.0,257.6 645.2,246.3 645.4,270.8 645.6,302.8 645.8,286.9 646.0,261.7 646.2,257.3 646.4,276.2 646.6,269.1 646.8,270.3 647.0,261.8 647.2,265.5 647.4,268.9 647.6,266.5 647.8,271.9 648.0,263.5 648.2,262.8 648.4,277.0 648.5,276.6 648.7,241.2 648.9,292.0 649.1,303.8 649.3,294.3 649.5,259.6 649.7,268.3 649.9,267.6 650.1,279.0 650.3,271.4 650.5,280.8 650.7,290.4 650.9,276.7 651.1,291.6 651.3,297.5 651.5,270.3 651.7,269.9 651.9,294.8 652.1,260.5 652.3,256.5 652.5,279.8 652.7,288.8 652.9,274.7 653.1,297.0 653.3,283.2 653.5,281.3 653.7,296.0 653.9,298.4 654.1,309.7 654.3,308.8 654.5,293.5 654.7,284.4 654.9,275.9 655.1,306.8 655.3,303.3 655.5,297.9 655.7,301.2 655.9,315.4 656.1,311.2 656.3,311.5 656.5,312.7 656.7,342.1 656.9,339.9 657.1,313.1 657.3,353.9 657.5,327.5 657.7,331.7 657.9,313.4 658.1,324.8 658.3,318.6 658.5,310.8 658.7,280.2 658.9,289.5 659.1,314.2 659.3,292.3 659.5,272.5 659.7,285.8 659.9,274.1 660.1,274.6 660.3,278.1 660.5,268.4 660.7,287.6 660.9,282.1 661.1,291.0 661.3,307.0 661.5,293.3 661.7,287.7 661.9,287.0 662.1,297.3 662.3,275.8 662.5,286.8 662.7,278.0 662.9,285.3 663.1,285.4 663.3,279.9 663.5,272.9 663.7,263.4 663.9,275.1 664.1,273.5 664.3,271.8 664.5,267.8 664.7,286.9 664.9,273.6 665.1,266.0 665.3,276.3 665.5,277.2 665.7,275.0 665.9,280.0 666.1,240.8 666.3,251.1 666.5,263.7 666.7,267.7 666.9,276.6 667.1,286.7 667.3,290.7 667.5,273.5 667.7,273.6 667.9,298.0 668.1,283.6 668.3,295.9 668.5,283.7 668.7,294.7 668.9,284.1 669.1,284.7 669.3,283.0 669.5,250.1 669.7,256.1 669.9,241.5 670.1,257.6 670.3,237.2 670.5,256.0 670.7,253.6 670.9,239.7 671.1,238.5 671.3,285.0 671.5,230.8 671.7,209.4 671.9,235.8 672.1,249.6 672.3,236.1 672.5,236.7 672.7,235.6 672.9,233.3 673.1,241.6 673.3,215.2 673.5,218.9 673.7,233.6 673.9,236.8 674.1,217.0 674.3,240.0 674.5,218.2 674.7,218.9 674.9,234.3 675.1,232.3 675.3,227.2 675.5,238.1 675.7,235.9 675.9,278.1 676.1,255.8 676.3,220.8 676.5,226.2 676.7,240.4 676.9,221.2 677.1,239.9 677.3,231.1 677.5,231.1 677.7,225.6 677.9,234.8 678.1,226.1 678.3,245.5 678.5,240.5 678.7,234.3 678.9,231.7 679.1,252.4 679.3,274.5 679.5,258.6 679.7,253.1 679.9,253.6 680.1,230.9 680.3,233.7 680.5,246.0 680.7,237.3 680.9,268.0 681.1,246.7 681.3,224.8 681.5,221.4 681.7,243.7 681.8,233.3 682.0,224.1 682.2,223.8 682.4,210.0 682.6,232.8 682.8,223.4 683.0,246.4 683.2,240.7 683.4,223.5 683.6,241.7 683.8,242.6 684.0,255.2 684.2,231.1 684.4,242.7 684.6,224.3 684.8,259.3 685.0,255.9 685.2,247.4 685.4,229.3 685.6,231.6 685.8,234.8 686.0,236.1 686.2,235.4 686.4,227.4 686.6,222.4 686.8,217.5 687.0,192.5 687.2,220.1 687.4,217.0 687.6,217.7 687.8,237.0 688.0,211.5 688.2,242.7 688.4,222.5 688.6,215.1 688.8,250.0 689.0,248.0 689.2,232.3 689.4,253.2 689.6,249.0 689.8,233.7 690.0,266.3 690.2,273.7 690.4,247.9 690.6,264.0 690.8,252.5 691.0,273.2 691.2,242.2 691.4,254.1 691.6,249.8 691.8,268.6 692.0,243.5 692.2,242.8 692.4,246.9 692.6,227.3 692.8,252.9 693.0,250.9 693.2,269.0 693.4,287.8 693.6,270.3 693.8,243.0 694.0,245.3 694.2,275.6 694.4,269.6 694.6,265.7 694.8,290.6 695.0,253.9 695.2,249.6 695.4,261.8 695.6,249.7 695.8,260.0 696.0,257.2 696.2,260.0 696.4,234.1 696.6,241.2 696.8,266.1 697.0,223.0 697.2,243.0 697.4,243.7 697.6,224.7 697.8,237.2 698.0,223.7 698.2,236.3 698.4,259.6 698.6,238.9 698.8,249.7 699.0,248.5 699.2,257.4 699.4,242.9 699.6,216.8 699.8,232.6 700.0,273.2 700.2,254.2 700.4,264.8 700.6,253.5 700.8,256.4 701.0,265.3 701.2,294.6 701.4,256.6 701.6,247.5 701.8,253.0 702.0,270.3 702.2,263.4 702.4,238.6 702.6,227.7 702.8,254.2 703.0,248.4 703.2,264.6 703.4,236.0 703.6,265.7 703.8,253.3 704.0,274.2 704.2,293.9 704.4,289.9 704.6,278.9 704.8,289.7 705.0,304.3 705.2,274.9 705.4,289.7 705.6,267.7 705.8,301.8 706.0,294.1 706.2,313.8 706.4,289.0 706.6,291.0 706.8,253.2 707.0,267.6 707.2,298.4 707.4,289.1 707.6,312.6 707.8,308.4 708.0,319.1 708.2,314.3 708.4,310.3 708.6,304.0 708.8,287.0 709.0,297.1 709.2,307.0 709.4,282.5 709.6,295.1 709.8,270.1 710.0,276.9 710.2,251.2 710.4,279.4 710.6,301.9 710.8,290.7 711.0,330.1 711.2,314.1 711.4,296.5 711.6,337.4 711.8,325.2 712.0,320.5 712.2,309.5 712.4,329.7 712.6,318.7 712.8,316.4 713.0,294.4 713.2,275.1 713.4,271.8 713.6,270.6 713.8,286.9 714.0,293.8 714.2,273.3 714.4,230.3 714.6,267.4 714.8,349.1 715.0,311.0 715.1,299.1 715.3,308.2 715.5,300.9 715.7,298.9 715.9,276.2 716.1,253.1 716.3,257.2 716.5,278.0 716.7,258.7 716.9,243.1 717.1,203.2 717.3,234.2 717.5,233.2 717.7,258.5 717.9,232.3 718.1,265.9 718.3,251.9 718.5,235.5 718.7,255.7 718.9,239.2 719.1,254.2 719.3,254.2 719.5,274.1 719.7,236.3 719.9,233.8 720.1,238.8 720.3,239.6 720.5,250.2 720.7,206.0 720.9,225.4 721.1,257.6 721.3,243.7 721.5,241.4 721.7,239.1 721.9,244.8 722.1,240.4 722.3,231.5 722.5,254.3 722.7,264.7 722.9,245.7 723.1,227.3 723.3,222.4 723.5,250.5 723.7,230.8 723.9,233.1 724.1,219.6 724.3,243.9 724.5,240.7 724.7,202.1 724.9,228.3 725.1,244.0 725.3,231.1 725.5,234.0 725.7,224.6 725.9,234.5 726.1,235.3 726.3,235.8 726.5,229.2 726.7,205.9 726.9,218.3 727.1,237.7 727.3,223.9 727.5,229.9 727.7,235.6 727.9,262.9 728.1,228.2 728.3,233.4 728.5,235.1 728.7,222.3 728.9,237.8 729.1,236.9 729.3,232.2 729.5,215.6 729.7,229.2 729.9,263.1 730.1,212.4 730.3,234.6 730.5,230.2 730.7,244.5 730.9,222.8 731.1,225.7 731.3,222.6 731.5,260.8 731.7,234.5 731.9,254.9 732.1,230.4 732.3,205.8 732.5,238.6 732.7,255.4 732.9,251.9 733.1,256.1 733.3,239.8 733.5,238.5 733.7,242.3 733.9,250.1 734.1,248.2 734.3,268.9 734.5,269.0 734.7,261.2 734.9,269.3 735.1,268.8 735.3,269.6 735.5,254.9 735.7,261.6 735.9,245.4 736.1,252.6 736.3,239.4 736.5,205.6 736.7,251.2 736.9,265.3 737.1,242.3 737.3,246.6 737.5,215.5 737.7,252.9 737.9,240.8 738.1,225.0 738.3,227.4 738.5,240.4 738.7,251.0 738.9,238.7 739.1,270.8 739.3,256.8 739.5,232.1 739.7,247.8 739.9,227.0 740.1,229.1 740.3,232.4 740.5,231.2 740.7,201.4 740.9,217.7 741.1,215.3 741.3,215.2 741.5,231.5 741.7,221.8 741.9,226.8 742.1,229.7 742.3,263.0 742.5,274.9 742.7,237.2 742.9,241.3 743.1,238.9 743.3,238.2 743.5,240.8 743.7,235.0 743.9,206.6 744.1,195.1 744.3,219.8 744.5,237.0 744.7,219.1 744.9,237.6 745.1,222.5 745.3,210.6 745.5,222.4 745.7,228.5 745.9,239.6 746.1,241.1 746.3,232.5 746.5,240.2 746.7,265.8 746.9,277.2 747.1,249.8 747.3,246.4 747.5,233.5 747.7,226.2 747.9,226.0 748.1,229.1 748.2,225.4 748.4,218.2 748.6,232.1 748.8,225.4 749.0,230.6 749.2,246.4 749.4,253.0 749.6,279.5 749.8,259.7 750.0,266.4 750.2,250.2 750.4,232.6 750.6,233.5 750.8,267.7 751.0,286.5 751.2,271.7 751.4,271.4 751.6,273.3 751.8,288.8 752.0,269.4 752.2,298.3 752.4,272.9 752.6,232.2 752.8,259.0 753.0,254.1 753.2,254.1 753.4,268.7 753.6,263.2 753.8,261.0 754.0,260.9 754.2,275.9 754.4,279.3 754.6,245.8 754.8,268.4 755.0,265.0 755.2,279.1 755.4,286.4 755.6,276.1 755.8,287.0 756.0,283.9 756.2,280.8 756.4,301.3 756.6,315.1 756.8,286.8 757.0,289.2 757.2,277.1 757.4,278.6 757.6,276.4 757.8,255.5 758.0,269.5 758.2,282.9 758.4,303.2 758.6,289.2 758.8,279.0 759.0,270.8 759.2,273.8 759.4,266.6 759.6,262.4 759.8,273.1 760.0,266.4 760.2,277.6 760.4,284.8 760.6,254.1 760.8,263.7 761.0,277.6 761.2,250.3 761.4,281.3 761.6,258.1 761.8,274.7 762.0,293.4 762.2,271.2 762.4,267.4 762.6,230.4 762.8,258.5 763.0,251.1 763.2,243.8 763.4,247.1 763.6,230.3 763.8,247.3 764.0,235.7 764.2,223.0 764.4,241.1 764.6,247.8 764.8,239.8 765.0,210.7 765.2,248.3 765.4,258.3 765.6,251.7 765.8,246.3 766.0,245.0 766.2,283.9 766.4,288.6 766.6,258.4 766.8,276.5 767.0,274.9 767.2,269.2 767.4,247.8 767.6,271.5 767.8,236.9 768.0,247.3 768.2,257.0 768.4,294.3 768.6,228.2 768.8,254.7 769.0,226.9 769.2,220.8 769.4,223.7 769.6,256.9 769.8,239.8 770.0,251.2 770.2,230.2 770.4,247.0 770.6,253.5 770.8,221.3 771.0,245.7 771.2,250.5 771.4,251.7 771.6,246.1 771.8,232.0 772.0,251.1 772.2,259.1 772.4,261.2 772.6,242.5 772.8,245.2 773.0,259.0 773.2,220.4 773.4,251.6 773.6,251.0 773.8,261.5 774.0,296.9 774.2,265.3 774.4,281.2 774.6,253.9 774.8,267.4 775.0,261.6 775.2,273.6 775.4,268.2 775.6,259.9 775.8,278.8 776.0,280.6 776.2,259.8 776.4,240.3 776.6,257.2 776.8,276.8 777.0,293.9 777.2,273.3 777.4,269.6 777.6,284.9 777.8,304.3 778.0,293.5 778.2,288.5 778.4,277.5 778.6,289.7 778.8,273.2 779.0,281.0 779.2,274.8 779.4,251.8 779.6,262.8 779.8,262.9 780.0,264.3 780.2,261.7 780.4,274.9 780.6,312.6 780.8,280.4 781.0,276.1 781.2,267.2 781.4,279.7 781.5,288.1 781.7,276.5 781.9,279.6 782.1,283.9 782.3,292.3 782.5,250.0 782.7,256.9 782.9,242.1 783.1,243.8 783.3,262.5 783.5,236.4 783.7,271.8 783.9,244.7 784.1,262.6 784.3,268.8 784.5,310.9 784.7,286.2 784.9,282.4 785.1,264.0 785.3,269.1 785.5,282.8 785.7,251.0 785.9,263.5 786.1,254.3 786.3,253.8 786.5,242.5 786.7,202.3 786.9,231.7 787.1,247.8 787.3,253.9 787.5,309.6 787.7,249.6 787.9,262.9 788.1,285.9 788.3,291.4 788.5,256.9 788.7,286.6 788.9,276.1 789.1,266.5 789.3,257.4 789.5,289.2 789.7,274.6 789.9,309.5 790.1,290.9 790.3,235.8 790.5,252.5 790.7,268.2 790.9,274.7 791.1,280.7 791.3,246.2 791.5,276.1 791.7,274.7 791.9,274.9 792.1,307.0 792.3,286.4 792.5,274.9 792.7,271.4 792.9,285.3 793.1,292.6 793.3,292.5 793.5,282.2 793.7,259.8 793.9,262.4 794.1,245.4 794.3,257.4 794.5,255.6 794.7,235.2 794.9,248.9 795.1,253.3 795.3,271.3 795.5,252.8 795.7,268.1 795.9,304.9 796.1,286.8 796.3,232.4 796.5,256.8 796.7,264.0 796.9,229.5 797.1,281.9 797.3,268.5 797.5,299.4 797.7,278.7 797.9,291.2 798.1,279.3 798.3,289.1 798.5,287.5 798.7,285.3 798.9,287.3 799.1,265.4 799.3,275.0 799.5,278.7 799.7,287.4 799.9,253.1 800.1,240.6 800.3,270.1 800.5,249.9 800.7,262.3 800.9,254.1 801.1,248.3 801.3,230.7 801.5,249.7 801.7,265.8 801.9,270.8 802.1,255.8 802.3,257.9 802.5,261.9 802.7,255.3 802.9,259.7 803.1,271.3 803.3,301.5 803.5,259.4 803.7,258.1 803.9,252.4 804.1,260.4 804.3,259.6 804.5,235.7 804.7,275.3 804.9,266.2 805.1,255.4 805.3,233.2 805.5,239.6 805.7,262.9 805.9,275.2 806.1,274.6 806.3,248.7 806.5,274.2 806.7,303.3 806.9,258.3 807.1,262.6 807.3,260.0 807.5,282.4 807.7,242.2 807.9,270.2 808.1,247.2 808.3,245.8 808.5,278.7 808.7,265.0 808.9,257.9 809.1,259.3 809.3,254.2 809.5,270.6 809.7,275.7 809.9,255.7 810.1,265.8 810.3,262.1 810.5,263.9 810.7,260.4 810.9,236.1 811.1,257.0 811.3,277.0 811.5,295.7 811.7,308.9 811.9,299.7 812.1,287.5 812.3,282.6 812.5,278.2 812.7,288.3 812.9,298.3 813.1,301.4 813.3,294.3 813.5,260.5 813.7,284.8 813.9,295.7 814.1,296.0 814.3,302.8 814.5,300.2 814.7,299.5 814.8,317.9 815.0,303.7 815.2,292.9 815.4,297.2 815.6,277.7 815.8,298.7 816.0,287.1 816.2,297.5 816.4,286.2 816.6,308.1 816.8,330.8 817.0,307.4 817.2,311.6 817.4,314.8 817.6,305.1 817.8,300.5 818.0,307.5 818.2,312.5 818.4,310.7 818.6,311.3 818.8,338.8 819.0,318.2 819.2,318.4 819.4,290.9 819.6,302.8 819.8,293.3 820.0,270.7 820.2,301.2 820.4,299.9 820.6,315.1 820.8,296.1 821.0,307.7 821.2,319.7 821.4,282.6 821.6,290.6 821.8,285.2 822.0,270.3 822.2,279.3 822.4,279.6 822.6,274.6 822.8,263.2 823.0,291.3 823.2,251.4 823.4,257.8 823.6,245.7 823.8,253.4 824.0,275.4 824.2,277.1 824.4,273.1 824.6,267.2 824.8,256.0 825.0,227.2 825.2,279.3 825.4,289.1 825.6,303.1 825.8,283.6 826.0,283.0 826.2,265.8 826.4,263.9 826.6,287.4 826.8,262.1 827.0,273.7 827.2,281.2 827.4,245.6 827.6,224.5 827.8,274.4 828.0,260.0 828.2,273.3 828.4,263.5 828.6,244.6 828.8,270.2 829.0,288.6 829.2,298.1 829.4,285.7 829.6,272.1 829.8,261.1 830.0,277.5 830.2,276.5 830.4,235.1 830.6,278.2 830.8,243.1 831.0,264.7 831.2,288.5 831.4,273.2 831.6,256.1 831.8,282.2 832.0,290.7 832.2,304.4 832.4,286.0 832.6,267.7 832.8,281.0 833.0,279.3 833.2,273.0 833.4,250.8 833.6,258.5 833.8,294.5 834.0,302.6 834.2,277.6 834.4,307.0 834.6,319.3 834.8,287.0 835.0,281.4 835.2,308.3 835.4,328.1 835.6,284.5 835.8,296.0 836.0,314.2 836.2,269.0 836.4,292.1 836.6,339.7 836.8,318.6 837.0,301.7 837.2,298.5 837.4,295.1 837.6,314.2 837.8,315.8 838.0,299.9 838.2,312.5 838.4,306.7 838.6,333.8 838.8,326.6 839.0,358.0 839.2,318.7 839.4,320.3 839.6,304.3 839.8,310.2 840.0,301.4 840.2,275.9 840.4,286.8 840.6,297.6 840.8,302.8 841.0,318.6 841.2,315.3 841.4,298.9 841.6,301.8 841.8,329.2 842.0,326.1 842.2,297.5 842.4,325.6 842.6,300.5 842.8,287.8 843.0,302.7 843.2,262.1 843.4,309.0 843.6,306.5 843.8,272.9 844.0,279.8 844.2,289.3 844.4,270.2 844.6,271.3 844.8,276.1 845.0,269.7 845.2,266.0 845.4,273.2 845.6,313.9 845.8,288.4 846.0,269.6 846.2,253.0 846.4,283.2 846.6,256.1 846.8,243.8 847.0,262.7 847.2,279.6 847.4,235.2 847.6,254.4 847.8,261.2 847.9,256.9 848.1,250.2 848.3,261.5 848.5,278.8 848.7,272.9 848.9,309.3 849.1,268.6 849.3,272.4 849.5,222.2 849.7,290.0 849.9,263.2 850.1,251.9 850.3,262.7 850.5,305.3 850.7,307.7 850.9,276.9 851.1,268.9 851.3,250.5 851.5,276.6 851.7,285.6 851.9,292.9 852.1,307.5 852.3,295.3 852.5,293.1 852.7,319.9 852.9,306.5 853.1,303.5 853.3,302.5 853.5,298.2 853.7,292.6 853.9,297.6 854.1,280.9 854.3,255.3 854.5,262.6 854.7,240.5 854.9,270.8 855.1,274.4 855.3,276.1 855.5,290.6 855.7,278.9 855.9,290.3 856.1,259.2 856.3,284.5 856.5,279.4 856.7,270.6 856.9,265.9 857.1,256.0 857.3,263.0 857.5,257.7 857.7,242.5 857.9,210.7 858.1,218.5 858.3,246.9 858.5,237.4 858.7,243.6 858.9,240.1 859.1,237.5 859.3,222.4 859.5,239.5 859.7,225.2 859.9,239.4 860.1,274.0 860.3,251.8 860.5,235.6 860.7,257.4 860.9,255.3 861.1,250.8 861.3,254.8 861.5,259.9 861.7,254.3 861.9,259.0 862.1,261.7 862.3,261.1 862.5,253.7 862.7,268.0 862.9,263.4 863.1,266.7 863.3,255.0 863.5,274.6 863.7,251.0 863.9,236.4 864.1,241.3 864.3,252.1 864.5,240.0"/>
<polyline id="s-orange" fill="none" stroke="#ff8000" stroke-width="1.25" stroke-linejoin="round" points="266.3,92.0 266.5,97.8 266.7,94.7 266.9,100.7 267.1,88.5 267.3,97.1 267.5,103.1 267.7,106.2 267.9,102.7 268.1,100.9 268.3,97.7 268.5,90.2 268.7,99.6 268.9,114.0 269.1,123.5 269.3,114.0 269.5,126.9 269.7,134.3 269.9,138.2 270.1,145.3 270.3,158.0 270.5,153.2 270.7,161.6 270.9,160.4 271.1,178.9 271.3,178.7 271.5,176.4 271.7,188.5 271.9,185.8 272.1,184.8 272.3,196.6 272.5,193.6 272.7,187.5 272.9,185.3 273.1,193.9 273.3,217.6 273.5,204.6 273.7,202.4 273.9,214.4 274.1,218.6 274.3,217.5 274.5,220.0 274.7,208.9 274.9,222.8 275.1,244.7 275.3,235.5 275.5,220.2 275.7,224.1 275.9,226.3 276.1,212.4 276.3,212.5 276.5,224.9 276.7,209.3 276.9,210.8 277.1,194.0 277.3,176.3 277.5,198.5 277.7,233.5 277.9,226.3 278.1,220.6 278.3,213.0 278.5,212.1 278.7,207.1 278.9,210.5 279.1,214.0 279.3,217.8 279.5,223.1 279.7,200.6 279.9,201.0 280.1,189.4 280.3,166.4 280.5,184.3 280.7,203.5 280.9,208.4 281.1,210.1 281.3,199.4 281.5,196.9 281.7,206.8 281.9,194.4 282.1,199.6 282.3,213.0 282.5,213.9 282.7,216.9 282.9,199.4 283.0,220.6 283.2,216.5 283.4,235.3 283.6,249.8 283.8,234.1 284.0,223.8 284.2,234.2 284.4,221.6 284.6,236.2 284.8,242.1 285.0,235.1 285.2,237.7 285.4,249.1 285.6,283.2 285.8,281.7 286.0,255.5 286.2,231.2 286.4,237.4 286.6,242.5 286.8,235.7 287.0,234.6 287.2,244.7 287.4,232.1 287.6,233.7 287.8,237.5 288.0,264.8 288.2,238.9 288.4,220.7 288.6,224.5 288.8,216.7 289.0,216.2 289.2,226.2 289.4,214.2 289.6,218.7 289.8,224.2 290.0,216.8 290.2,222.0 290.4,216.0 290.6,218.7 290.8,229.9 291.0,238.0 291.2,222.3 291.4,223.3 291.6,219.2 291.8,209.0 292.0,195.2 292.2,176.3 292.4,199.9 292.6,201.1 292.8,206.9 293.0,196.0 293.2,207.4 293.4,205.0 293.6,214.6 293.8,210.9 294.0,218.7 294.2,221.6 294.4,224.2 294.6,216.9 294.8,219.0 295.0,224.8 295.2,195.1 295.4,217.6 295.6,221.2 295.8,227.0 296.0,204.8 296.2,215.6 296.4,225.5 296.6,223.5 296.8,245.0 297.0,232.4 297.2,232.5 297.4,242.8 297.6,230.1 297.8,218.3 298.0,231.5 298.2,241.3 298.4,248.6 298.6,245.7 298.8,247.4 299.0,250.0 299.2,256.6 299.4,263.8 299.6,253.8 299.8,253.0 300.0,259.2 300.2,256.3 300.4,259.3 300.6,243.9 300.8,240.2 301.0,256.3 301.2,275.8 301.4,276.7 301.6,271.8 301.8,285.9 302.0,282.0 302.2,278.9 302.4,272.6 302.6,286.0 302.8,285.3 303.0,287.7 303.2,289.5 303.4,280.4 303.6,283.1 303.8,270.6 304.0,260.9 304.2,267.7 304.4,275.3 304.6,284.7 304.8,282.2 305.0,290.3 305.2,274.7 305.4,260.0 305.6,285.0 305.8,297.9 306.0,311.5 306.2,289.7 306.4,285.3 306.6,282.6 306.8,284.3 307.0,283.3 307.2,277.1 307.4,279.9 307.6,293.5 307.8,293.6 308.0,291.9 308.2,303.3 308.4,300.8 308.6,301.7 308.8,299.4 309.0,293.3 309.2,299.4 309.4,297.4 309.6,287.6 309.8,291.9 310.0,268.1 310.2,255.0 310.4,253.7 310.6,273.7 310.8,282.7 311.0,288.8 311.2,272.0 311.4,272.7 311.6,264.9 311.8,269.1 312.0,260.1 312.2,257.8 312.4,268.0 312.6,268.4 312.8,259.4 313.0,260.6 313.2,245.8 313.4,261.3 313.6,259.9 313.8,262.3 314.0,269.7 314.2,263.5 314.4,271.1 314.6,276.8 314.8,288.6 315.0,265.3 315.2,263.7 315.4,259.6 315.6,268.7 315.8,256.2 316.0,264.8 316.2,262.9 316.3,248.7 316.5,239.6 316.7,235.6 316.9,246.2 317.1,245.6 317.3,243.6 317.5,247.9 317.7,262.2 317.9,264.9 318.1,263.7 318.3,254.8 318.5,252.0 318.7,250.0 318.9,266.7 319.1,295.7 319.3,281.0 319.5,306.2 319.7,323.6 319.9,302.3 320.1,305.2 320.3,301.3 320.5,292.8 320.7,294.3 320.9,285.5 321.1,283.0 321.3,287.4 321.5,276.2 321.7,269.4 321.9,289.6 322.1,272.0 322.3,251.0 322.5,279.5 322.7,276.8 322.9,269.2 323.1,290.1 323.3,298.5 323.5,293.8 323.7,284.3 323.9,286.3 324.1,288.1 324.3,288.6 324.5,274.3 324.7,281.3 324.9,269.0 325.1,279.4 325.3,276.0 325.5,251.5 325.7,268.8 325.9,266.8 326.1,259.6 326.3,264.8 326.5,263.3 326.7,257.3 326.9,266.3 327.1,251.2 327.3,267.9 327.5,282.6 327.7,257.1 327.9,248.9 328.1,225.8 328.3,230.3 328.5,238.8 328.7,242.6 328.9,245.9 329.1,262.9 329.3,254.3 329.5,231.5 329.7,215.9 329.9,218.6 330.1,214.7 330.3,208.5 330.5,167.3 330.7,203.6 330.9,213.3 331.1,194.6 331.3,207.4 331.5,198.9 331.7,203.3 331.9,214.1 332.1,231.9 332.3,224.9 332.5,232.2 332.7,236.8 332.9,253.0 333.1,256.1 333.3,238.8 333.5,264.1 333.7,273.4 333.9,262.2 334.1,253.4 334.3,252.4 334.5,261.5 334.7,263.8 334.9,257.4 335.1,266.3 335.3,249.8 335.5,266.4 335.7,262.3 335.9,278.2 336.1,267.5 336.3,284.9 336.5,268.8 336.7,290.8 336.9,281.4 337.1,284.1 337.3,252.9 337.5,225.0 337.7,251.9 337.9,277.7 338.1,279.2 338.3,268.7 338.5,273.8 338.7,263.5 338.9,248.0 339.1,238.3 339.3,239.0 339.5,246.8 339.7,238.9 339.9,245.1 340.1,236.3 340.3,243.9 340.5,245.8 340.7,262.9 340.9,269.7 341.1,250.8 341.3,242.6 341.5,248.3 341.7,237.0 341.9,240.9 342.1,238.1 342.3,207.3 342.5,225.7 342.7,245.6 342.9,242.5 343.1,220.9 343.3,243.6 343.5,232.7 343.7,232.0 343.9,234.5 344.1,237.7 344.3,263.9 344.5,238.0 344.7,217.0 344.9,234.9 345.1,218.3 345.3,210.3 345.5,207.7 345.7,223.3 345.9,221.6 346.1,218.5 346.3,214.1 346.5,232.5 346.7,222.8 346.9,227.6 347.1,227.9 347.3,216.8 347.5,229.8 347.7,225.5 347.9,233.0 348.1,227.3 348.3,242.0 348.5,239.8 348.7,235.1 348.9,234.4 349.1,255.3 349.3,274.8 349.4,264.1 349.6,255.6 349.8,256.6 350.0,260.8 350.2,249.6 350.4,255.1 350.6,257.9 350.8,270.7 351.0,281.3 351.2,268.2 351.4,261.3 351.6,251.2 351.8,246.3 352.0,248.3 352.2,226.3 352.4,216.7 352.6,245.0 352.8,220.8 353.0,234.0 353.2,235.0 353.4,238.7 353.6,236.6 353.8,228.8 354.0,232.7 354.2,232.2 354.4,224.2 354.6,215.0 354.8,235.2 355.0,200.0 355.2,246.9 355.4,263.4 355.6,236.1 355.8,231.8 356.0,218.7 356.2,227.1 356.4,208.1 356.6,226.3 356.8,216.5 357.0,223.5 357.2,216.2 357.4,221.9 357.6,232.9 357.8,220.9 358.0,211.5 358.2,238.1 358.4,235.7 358.6,230.7 358.8,242.5 359.0,243.7 359.2,231.9 359.4,240.2 359.6,246.5 359.8,255.8 360.0,264.6 360.2,247.0 360.4,233.0 360.6,249.8 360.8,247.4 361.0,247.4 361.2,237.8 361.4,246.3 361.6,246.8 361.8,242.1 362.0,244.4 362.2,239.0 362.4,238.2 362.6,226.8 362.8,252.5 363.0,262.6 363.2,246.1 363.4,232.1 363.6,235.4 363.8,242.5 364.0,239.5 364.2,225.0 364.4,229.2 364.6,207.6 364.8,230.0 365.0,240.1 365.2,236.5 365.4,233.4 365.6,231.3 365.8,232.9 366.0,224.4 366.2,223.0 366.4,231.9 366.6,239.6 366.8,228.0 367.0,250.1 367.2,247.1 367.4,267.9 367.6,247.9 367.8,244.4 368.0,222.1 368.2,206.2 368.4,247.6 368.6,218.9 368.8,225.7 369.0,229.7 369.2,229.4 369.4,226.7 369.6,233.5 369.8,238.0 370.0,240.6 370.2,232.4 370.4,234.7 370.6,237.9 370.8,220.6 371.0,226.1 371.2,255.7 371.4,222.5 371.6,227.0 371.8,264.4 372.0,274.8 372.2,257.8 372.4,233.1 372.6,249.1 372.8,244.2 373.0,195.1 373.2,228.8 373.4,239.8 373.6,242.3 373.8,230.5 374.0,236.8 374.2,224.7 374.4,256.7 374.6,236.8 374.8,255.3 375.0,268.1 375.2,254.9 375.4,243.0 375.6,246.5 375.8,245.9 376.0,215.9 376.2,236.6 376.4,262.4 376.6,259.2 376.8,278.9 377.0,299.2 377.2,284.8 377.4,300.9 377.6,311.3 377.8,296.0 378.0,291.7 378.2,264.1 378.4,279.2 378.6,261.1 378.8,259.4 379.0,230.5 379.2,246.7 379.4,259.4 379.6,263.9 379.8,273.6 380.0,265.6 380.2,257.9 380.4,275.0 380.6,313.5 380.8,283.1 381.0,271.0 381.2,269.0 381.4,257.2 381.6,278.4 381.8,263.0 382.0,262.0 382.2,252.5 382.4,257.4 382.6,263.1 382.7,265.6 382.9,236.0 383.1,263.4 383.3,267.7 383.5,257.8 383.7,291.8 383.9,310.2 384.1,293.2 384.3,276.9 384.5,277.1 384.7,280.6 384.9,280.8 385.1,255.8 385.3,261.3 385.5,278.0 385.7,254.7 385.9,241.0 386.1,250.8 386.3,261.9 386.5,263.0 386.7,270.5 386.9,273.7 387.1,262.8 387.3,256.5 387.5,280.7 387.7,297.5 387.9,291.2 388.1,313.3 388.3,293.7 388.5,312.8 388.7,337.1 388.9,367.3 389.1,328.1 389.3,299.1 389.5,241.0 389.7,265.7 389.9,295.6 390.1,308.8 390.3,283.1 390.5,282.4 390.7,283.5 390.9,294.0 391.1,273.5 391.3,290.2 391.5,286.2 391.7,269.7 391.9,258.4 392.1,242.0 392.3,260.2 392.5,295.6 392.7,266.3 392.9,262.4 393.1,267.7 393.3,289.0 393.5,263.7 393.7,244.2 393.9,260.0 394.1,238.5 394.3,244.0 394.5,245.1 394.7,235.9 394.9,210.1 395.1,231.4 395.3,232.5 395.5,223.1 395.7,201.4 395.9,233.0 396.1,226.8 396.3,223.9 396.5,240.0 396.7,234.5 396.9,246.5 397.1,228.9 397.3,255.7 397.5,247.1 397.7,238.0 397.9,276.8 398.1,288.5 398.3,263.3 398.5,272.1 398.7,265.8 398.9,283.2 399.1,299.0 399.3,269.3 399.5,282.0 399.7,239.1 399.9,197.3 400.1,237.6 400.3,271.5 400.5,251.5 400.7,266.3 400.9,261.4 401.1,252.6 401.3,266.6 401.5,271.5 401.7,264.9 401.9,261.2 402.1,268.4 402.3,239.3 402.5,215.6 402.7,283.2 402.9,273.1 403.1,267.2 403.3,261.9 403.5,279.7 403.7,309.8 403.9,299.4 404.1,283.7 404.3,290.9 404.5,275.0 404.7,282.1 404.9,286.3 405.1,280.0 405.3,293.5 405.5,269.0 405.7,235.2 405.9,266.5 406.1,322.9 406.3,300.1 406.5,287.1 406.7,281.3 406.9,281.7 407.1,281.4 407.3,260.4 407.5,313.6 407.7,344.2 407.9,299.8 408.1,310.4 408.3,289.8 408.5,297.5 408.7,283.3 408.9,293.6 409.1,305.0 409.3,295.7 409.5,289.3 409.7,314.2 409.9,318.7 410.1,315.7 410.3,318.6 410.5,337.9 410.7,318.7 410.9,323.1 411.1,362.7 411.3,347.5 411.5,325.9 411.7,326.9 411.9,337.3 412.1,311.7 412.3,326.7 412.5,304.3 412.7,304.8 412.9,302.5 413.1,285.9 413.3,295.0 413.5,318.0 413.7,315.6 413.9,307.7 414.1,314.3 414.3,324.9 414.5,327.8 414.7,341.7 414.9,343.2 415.1,349.2 415.3,340.0 415.5,347.5 415.7,374.9 415.9,354.8 416.0,352.6 416.2,366.7 416.4,367.3 416.6,354.1 416.8,358.2 417.0,349.7 417.2,356.7 417.4,360.7 417.6,359.5 417.8,355.5 418.0,388.3 418.2,362.2 418.4,325.3 418.6,338.0 418.8,356.2 419.0,366.8 419.2,369.5 419.4,364.3 419.6,366.0 419.8,365.8 420.0,360.3 420.2,376.0 420.4,380.1 420.6,377.7 420.8,382.6 421.0,400.6 421.2,382.8 421.4,365.9 421.6,340.4 421.8,353.0 422.0,380.6 422.2,360.4 422.4,369.3 422.6,365.1 422.8,371.0 423.0,355.8 423.2,376.8 423.4,375.0 423.6,366.8 423.8,386.5 424.0,367.2 424.2,380.7 424.4,390.1 424.6,410.7 424.8,392.7 425.0,385.7 425.2,388.6 425.4,408.6 425.6,384.9 425.8,386.9 426.0,386.6 426.2,388.0 426.4,384.4 426.6,396.3 426.8,394.1 427.0,394.9 427.2,379.8 427.4,387.4 427.6,397.2 427.8,376.8 428.0,360.9 428.2,370.9 428.4,390.6 428.6,406.2 428.8,412.7 429.0,393.5 429.2,398.8 429.4,382.4 429.6,396.8 429.8,382.2 430.0,394.2 430.2,395.8 430.4,396.6 430.6,398.4 430.8,399.3 431.0,390.1 431.2,380.5 431.4,380.9 431.6,401.3 431.8,419.1 432.0,407.1 432.2,386.0 432.4,385.0 432.6,383.5 432.8,387.4 433.0,389.3 433.2,387.6 433.4,392.5 433.6,385.9 433.8,362.7 434.0,381.4 434.2,387.4 434.4,368.0 434.6,383.3 434.8,378.4 435.0,371.5 435.2,382.9 435.4,393.1 435.6,395.5 435.8,400.4 436.0,390.3 436.2,395.1 436.4,397.2 436.6,406.1 436.8,429.0 437.0,414.1 437.2,393.9 437.4,404.9 437.6,394.2 437.8,382.5 438.0,370.2 438.2,374.8 438.4,386.4 438.6,391.4 438.8,395.2 439.0,389.7 439.2,413.2 439.4,391.3 439.6,397.6 439.8,377.2 440.0,390.3 440.2,402.8 440.4,405.5 440.6,411.9 440.8,407.0 441.0,416.6 441.2,406.0 441.4,424.7 441.6,437.9 441.8,409.6 442.0,410.5 442.2,412.0 442.4,411.8 442.6,420.9 442.8,410.8 443.0,418.2 443.2,419.0 443.4,401.6 443.6,375.9 443.8,401.6 444.0,422.0 444.2,404.6 444.4,418.6 444.6,437.5 444.8,453.0 445.0,420.1 445.2,421.7 445.4,425.8 445.6,406.1 445.8,414.5 446.0,406.7 446.2,419.8 446.4,407.4 446.6,405.6 446.8,400.2 447.0,399.4 447.2,399.9 447.4,388.3 447.6,395.1 447.8,371.9 448.0,399.1 448.2,411.6 448.4,425.3 448.6,439.9 448.8,413.9 449.0,404.8 449.1,417.2 449.3,417.5 449.5,412.9 449.7,409.8 449.9,405.5 450.1,395.3 450.3,421.4 450.5,409.7 450.7,407.9 450.9,392.7 451.1,412.4 451.3,395.3 451.5,379.2 451.7,388.6 451.9,404.5 452.1,412.2 452.3,416.1 452.5,419.5 452.7,415.4 452.9,434.2 453.1,438.5 453.3,425.9 453.5,421.9 453.7,414.3 453.9,424.0 454.1,414.2 454.3,424.2 454.5,420.5 454.7,427.8 454.9,427.9 455.1,414.4 455.3,418.5 455.5,417.3 455.7,439.7 455.9,416.0 456.1,390.4 456.3,402.3 456.5,424.9 456.7,432.8 456.9,420.5 457.1,408.8 457.3,407.7 457.5,405.6 457.7,403.6 457.9,394.1 458.1,401.8 458.3,390.7 458.5,381.0 458.7,394.3 458.9,410.0 459.1,405.7 459.3,392.1 459.5,396.0 459.7,409.5 459.9,411.5 460.1,409.1 460.3,413.5 460.5,401.0 460.7,409.9 460.9,405.3 461.1,390.9 461.3,387.8 461.5,404.4 461.7,413.6 461.9,424.9 462.1,406.2 462.3,401.3 462.5,398.6 462.7,386.0 462.9,393.9 463.1,393.9 463.3,361.2 463.5,399.0 463.7,420.5 463.9,388.2 464.1,372.7 464.3,372.5 464.5,356.2 464.7,376.3 464.9,372.5 465.1,384.7 465.3,368.7 465.5,374.1 465.7,385.9 465.9,381.5 466.1,377.7 466.3,392.9 466.5,396.2 466.7,375.8 466.9,385.4 467.1,376.1 467.3,393.8 467.5,369.3 467.7,392.8 467.9,394.8 468.1,383.7 468.3,375.5 468.5,378.5 468.7,378.7 468.9,369.3 469.1,364.5 469.3,373.4 469.5,361.3 469.7,352.7 469.9,367.5 470.1,365.6 470.3,370.0 470.5,367.5 470.7,365.2 470.9,379.3 471.1,366.3 471.3,355.2 471.5,358.8 471.7,354.4 471.9,355.2 472.1,361.8 472.3,353.0 472.5,337.3 472.7,340.0 472.9,350.1 473.1,337.7 473.3,339.5 473.5,337.5 473.7,328.2 473.9,312.2 474.1,320.1 474.3,310.2 474.5,320.4 474.7,312.5 474.9,323.4 475.1,303.0 475.3,290.2 475.5,295.6 475.7,286.8 475.9,287.9 476.1,293.1 476.3,301.3 476.5,276.5 476.7,252.6 476.9,263.1 477.1,281.6 477.3,279.9 477.5,309.2 477.7,329.6 477.9,286.1 478.1,284.4 478.3,293.2 478.5,285.0 478.7,290.1 478.9,288.9 479.1,278.5 479.3,287.0 479.5,298.8 479.7,277.5 479.9,296.9 480.1,282.6 480.3,267.2 480.5,298.6 480.7,302.3 480.9,297.7 481.1,338.3 481.3,320.1 481.5,344.0 481.7,319.4 481.9,330.7 482.1,315.1 482.3,305.5 482.4,279.1 482.6,302.9 482.8,325.8 483.0,307.6 483.2,315.4 483.4,327.9 483.6,326.9 483.8,321.2 484.0,332.6 484.2,334.4 484.4,330.6 484.6,350.1 484.8,340.4 485.0,327.6 485.2,319.1 485.4,300.4 485.6,314.9 485.8,321.8 486.0,331.7 486.2,325.2 486.4,306.1 486.6,318.7 486.8,324.5 487.0,315.4 487.2,313.9 487.4,320.1 487.6,318.2 487.8,305.3 488.0,324.5 488.2,319.2 488.4,339.4 488.6,350.0 488.8,335.4 489.0,319.4 489.2,314.1 489.4,312.9 489.6,325.1 489.8,322.0 490.0,335.5 490.2,344.0 490.4,320.5 490.6,305.7 490.8,314.9 491.0,308.4 491.2,326.6 491.4,338.9 491.6,302.6 491.8,293.5 492.0,283.0 492.2,247.4 492.4,280.3 492.6,286.6 492.8,289.1 493.0,290.5 493.2,281.5 493.4,274.5 493.6,273.8 493.8,297.6 494.0,295.5 494.2,288.2 494.4,324.5 494.6,309.6 494.8,302.7 495.0,304.8 495.2,292.3 495.4,297.4 495.6,319.2 495.8,308.4 496.0,328.7 496.2,296.1 496.4,252.7 496.6,270.0 496.8,256.3 497.0,298.2 497.2,301.2 497.4,321.3 497.6,306.9 497.8,313.7 498.0,308.1 498.2,312.6 498.4,309.8 498.6,316.4 498.8,319.8 499.0,338.6 499.2,316.8 499.4,334.8 499.6,314.0 499.8,337.7 500.0,360.0 500.2,331.8 500.4,310.2 500.6,280.0 500.8,321.9 501.0,332.6 501.2,326.1 501.4,300.4 501.6,323.5 501.8,354.4 502.0,345.4 502.2,355.8 502.4,363.1 502.6,363.7 502.8,364.2 503.0,378.3 503.2,356.0 503.4,339.4 503.6,338.6 503.8,344.2 504.0,341.9 504.2,350.7 504.4,345.3 504.6,341.4 504.8,350.0 505.0,348.8 505.2,344.3 505.4,350.9 505.6,390.5 505.8,357.4 506.0,346.5 506.2,318.0 506.4,348.4 506.6,326.5 506.8,339.2 507.0,325.1 507.2,339.0 507.4,339.4 507.6,349.1 507.8,346.6 508.0,358.9 508.2,346.2 508.4,360.8 508.6,380.8 508.8,392.6 509.0,377.4 509.2,362.7 509.4,375.8 509.6,365.8 509.8,377.3 510.0,343.3 510.2,373.9 510.4,353.5 510.6,360.7 510.8,353.9 511.0,331.1 511.2,367.3 511.4,396.0 511.6,424.5 511.8,397.2 512.0,399.8 512.2,385.2 512.4,400.6 512.6,387.2 512.8,379.5 513.0,380.4 513.2,382.0 513.4,389.7 513.6,374.7 513.8,366.1 514.0,353.0 514.2,381.3 514.4,355.2 514.6,367.3 514.8,353.8 515.0,340.6 515.2,361.0 515.4,369.1 515.6,380.1 515.7,386.6 515.9,380.2 516.1,367.5 516.3,399.4 516.5,404.7 516.7,393.3 516.9,376.2 517.1,379.2 517.3,375.2 517.5,377.2 517.7,382.7 517.9,372.9 518.1,383.8 518.3,368.9 518.5,389.5 518.7,376.7 518.9,401.9 519.1,394.8 519.3,374.5 519.5,377.7 519.7,386.0 519.9,376.7 520.1,378.7 520.3,386.0 520.5,382.8 520.7,365.3 520.9,350.8 521.1,375.4 521.3,392.2 521.5,395.9 521.7,395.1 521.9,390.3 522.1,387.0 522.3,388.4 522.5,391.9 522.7,381.3 522.9,368.4 523.1,368.2 523.3,383.7 523.5,366.6 523.7,378.8 523.9,356.8 524.1,336.3 524.3,360.6 524.5,383.6 524.7,371.6 524.9,368.7 525.1,371.6 525.3,381.1 525.5,373.8 525.7,380.9 525.9,373.1 526.1,379.6 526.3,377.1 526.5,365.0 526.7,372.6 526.9,361.1 527.1,361.4 527.3,374.1 527.5,366.8 527.7,351.3 527.9,339.3 528.1,334.7 528.3,344.0 528.5,329.7 528.7,306.2 528.9,316.2 529.1,338.1 529.3,322.2 529.5,326.6 529.7,309.6 529.9,315.0 530.1,307.0 530.3,307.3 530.5,311.2 530.7,302.3 530.9,304.3 531.1,292.1 531.3,304.2 531.5,287.6 531.7,299.1 531.9,294.0 532.1,270.9 532.3,257.2 532.5,303.8 532.7,273.2 532.9,286.2 533.1,291.1 533.3,297.0 533.5,307.5 533.7,334.0 533.9,312.0 534.1,306.0 534.3,286.0 534.5,307.2 534.7,287.6 534.9,302.7 535.1,338.1 535.3,293.8 535.5,245.2 535.7,291.4 535.9,280.9 536.1,289.8 536.3,292.0 536.5,274.8 536.7,279.1 536.9,278.5 537.1,286.3 537.3,286.0 537.5,313.6 537.7,316.7 537.9,331.1 538.1,336.1 538.3,338.6 538.5,332.5 538.7,341.3 538.9,324.5 539.1,305.8 539.3,320.3 539.5,340.2 539.7,315.0 539.9,318.8 540.1,295.4 540.3,272.4 540.5,271.1 540.7,234.8 540.9,246.3 541.1,285.8 541.3,282.0 541.5,268.5 541.7,258.1 541.9,251.1 542.1,275.0 542.3,264.3 542.5,267.7 542.7,258.4 542.9,248.5 543.1,273.4 543.3,232.9 543.5,252.0 543.7,258.2 543.9,251.0 544.1,291.8 544.3,281.2 544.5,302.9 544.7,322.6 544.9,308.4 545.1,269.8 545.3,290.0 545.5,265.4 545.7,301.7 545.9,274.0 546.1,315.6 546.3,291.2 546.5,308.2 546.7,292.1 546.9,275.7 547.1,268.8 547.3,283.0 547.5,260.0 547.7,281.6 547.9,262.3 548.1,259.9 548.3,260.3 548.5,271.8 548.7,279.6 548.8,310.3 549.0,266.9 549.2,256.9 549.4,259.0 549.6,241.9 549.8,231.5 550.0,240.1 550.2,256.7 550.4,239.0 550.6,240.2 550.8,260.7 551.0,253.4 551.2,244.0 551.4,282.9 551.6,264.1 551.8,270.7 552.0,264.0 552.2,273.9 552.4,273.8 552.6,265.3 552.8,273.8 553.0,277.1 553.2,264.3 553.4,259.4 553.6,235.5 553.8,262.6 554.0,294.9 554.2,307.9 554.4,295.9 554.6,295.5 554.8,289.0 555.0,305.5 555.2,307.7 555.4,298.3 555.6,308.7 555.8,290.1 556.0,315.4 556.2,309.1 556.4,299.0 556.6,295.6 556.8,294.2 557.0,287.9 557.2,290.2 557.4,294.1 557.6,277.8 557.8,239.1 558.0,268.7 558.2,279.7 558.4,296.7 558.6,278.7 558.8,263.0 559.0,271.0 559.2,262.3 559.4,246.4 559.6,256.6 559.8,264.5 560.0,266.1 560.2,244.3 560.4,254.9 560.6,247.8 560.8,247.8 561.0,257.9 561.2,250.5 561.4,255.2 561.6,260.4 561.8,304.9 562.0,287.2 562.2,265.7 562.4,270.3 562.6,265.8 562.8,269.7 563.0,265.3 563.2,265.0 563.4,278.1 563.6,274.3 563.8,273.3 564.0,274.2 564.2,277.3 564.4,282.8 564.6,303.9 564.8,275.1 565.0,245.1 565.2,267.9 565.4,278.2 565.6,270.8 565.8,273.2 566.0,281.5 566.2,295.5 566.4,283.2 566.6,287.9 566.8,295.0 567.0,298.2 567.2,309.1 567.4,287.6 567.6,299.7 567.8,302.3 568.0,277.3 568.2,248.6 568.4,265.2 568.6,290.4 568.8,282.0 569.0,284.4 569.2,296.6 569.4,275.8 569.6,294.7 569.8,262.1 570.0,286.8 570.2,289.4 570.4,271.5 570.6,261.6 570.8,264.2 571.0,283.6 571.2,278.2 571.4,276.2 571.6,275.0 571.8,247.9 572.0,259.0 572.2,290.4 572.4,286.4 572.6,281.2 572.8,288.3 573.0,288.7 573.2,297.4 573.4,301.7 573.6,296.2 573.8,314.4 574.0,297.3 574.2,291.8 574.4,289.1 574.6,270.4 574.8,251.3 575.0,274.6 575.2,300.8 575.4,297.6 575.6,313.5 575.8,305.9 576.0,320.0 576.2,314.0 576.4,316.4 576.6,318.2 576.8,317.3 577.0,321.2 577.2,312.5 577.4,309.1 577.6,322.0 577.8,309.0 578.0,301.8 578.2,298.3 578.4,289.9 578.6,293.5 578.8,298.7 579.0,289.8 579.2,251.0 579.4,272.6 579.6,291.7 579.8,293.8 580.0,323.2 580.2,304.5 580.4,284.6 580.6,292.5 580.8,291.7 581.0,287.1 581.2,296.7 581.4,303.8 581.6,304.7 581.8,294.8 582.0,302.2 582.1,317.0 582.3,289.1 582.5,288.0 582.7,307.8 582.9,300.4 583.1,275.2 583.3,295.2 583.5,309.0 583.7,305.9 583.9,306.7 584.1,329.2 584.3,323.8 584.5,332.4 584.7,330.1 584.9,344.6 585.1,336.9 585.3,329.4 585.5,338.0 585.7,329.8 585.9,341.0 586.1,329.9 586.3,320.0 586.5,314.8 586.7,325.1 586.9,311.8 587.1,305.2 587.3,320.8 587.5,319.5 587.7,317.8 587.9,324.9 588.1,323.8 588.3,331.2 588.5,329.5 588.7,359.0 588.9,352.8 589.1,337.3 589.3,329.7 589.5,342.4 589.7,346.1 589.9,347.0 590.1,328.7 590.3,321.2 590.5,336.8 590.7,350.1 590.9,348.6 591.1,337.6 591.3,351.0 591.5,348.3 591.7,346.9 591.9,353.1 592.1,379.2 592.3,362.5 592.5,364.2 592.7,372.5 592.9,390.8 593.1,378.5 593.3,359.6 593.5,350.6 593.7,359.0 593.9,354.4 594.1,335.9 594.3,348.3 594.5,362.4 594.7,361.0 594.9,355.3 595.1,355.8 595.3,379.0 595.5,364.8 595.7,373.6 595.9,370.0 596.1,362.3 596.3,386.2 596.5,382.8 596.7,399.8 596.9,391.8 597.1,387.2 597.3,379.8 597.5,375.8 597.7,381.9 597.9,376.9 598.1,364.0 598.3,340.0 598.5,349.9 598.7,363.7 598.9,376.7 599.1,374.0 599.3,368.5 599.5,374.5 599.7,364.3 599.9,384.0 600.1,360.5 600.3,370.8 600.5,364.2 600.7,349.3 600.9,347.1 601.1,321.1 601.3,333.0 601.5,354.3 601.7,379.0 601.9,354.8 602.1,340.3 602.3,336.5 602.5,341.0 602.7,325.2 602.9,315.9 603.1,328.3 603.3,296.2 603.5,318.6 603.7,295.1 603.9,293.7 604.1,254.6 604.3,302.1 604.5,321.8 604.7,340.7 604.9,379.3 605.1,346.4 605.3,290.9 605.5,313.9 605.7,331.9 605.9,349.0 606.1,323.7 606.3,324.4 606.5,347.4 606.7,333.0 606.9,343.5 607.1,341.0 607.3,319.1 607.5,317.1 607.7,329.1 607.9,330.3 608.1,307.1 608.3,311.2 608.5,328.1 608.7,313.8 608.9,312.0 609.1,334.0 609.3,311.0 609.5,313.4 609.7,300.6 609.9,318.4 610.1,311.1 610.3,300.7 610.5,320.7 610.7,340.9 610.9,331.8 611.1,364.7 611.3,383.1 611.5,361.4 611.7,355.3 611.9,352.1 612.1,356.1 612.3,344.6 612.5,358.4 612.7,374.0 612.9,368.2 613.1,392.7 613.3,366.6 613.5,369.3 613.7,360.4 613.9,337.8 614.1,348.0 614.3,332.0 614.5,310.6 614.7,335.6 614.9,335.5 615.1,350.3 615.2,334.2 615.4,351.3 615.6,343.8 615.8,342.9 616.0,360.5 616.2,355.5 616.4,349.9 616.6,354.0 616.8,331.3 617.0,306.4 617.2,339.3 617.4,373.7 617.6,361.0 617.8,375.1 618.0,358.5 618.2,381.5 618.4,372.7 618.6,368.1 618.8,359.3 619.0,356.6 619.2,402.8 619.4,358.7 619.6,358.9 619.8,345.6 620.0,333.7 620.2,329.3 620.4,300.5 620.6,322.2 620.8,364.5 621.0,356.0 621.2,350.1 621.4,335.3 621.6,357.6 621.8,384.9 622.0,415.5 622.2,365.8 622.4,399.9 622.6,387.7 622.8,366.3 623.0,393.3 623.2,384.9 623.4,374.1 623.6,401.3 623.8,398.4 624.0,383.3 624.2,347.7 624.4,354.9 624.6,356.2 624.8,342.6 625.0,347.7 625.2,345.6 625.4,347.0 625.6,300.8 625.8,347.9 626.0,340.1 626.2,341.6 626.4,343.7 626.6,360.0 626.8,384.3 627.0,347.3 627.2,320.1 627.4,323.1 627.6,317.4 627.8,316.6 628.0,334.7 628.2,316.8 628.4,305.3 628.6,294.9 628.8,316.7 629.0,318.4 629.2,379.3 629.4,339.1 629.6,298.3 629.8,284.0 630.0,295.3 630.2,292.2 630.4,289.8 630.6,255.9 630.8,283.6 631.0,296.3 631.2,288.3 631.4,291.4 631.6,315.8 631.8,305.9 632.0,299.6 632.2,321.6 632.4,323.2 632.6,337.8 632.8,349.8 633.0,352.0 633.2,314.2 633.4,290.4 633.6,341.2 633.8,401.9 634.0,419.2 634.2,351.6 634.4,348.5 634.6,355.6 634.8,384.0 635.0,372.8 635.2,369.7 635.4,390.7 635.6,369.6 635.8,374.7 636.0,378.1 636.2,430.4 636.4,450.3 636.6,428.2 636.8,398.9 637.0,410.6 637.2,385.3 637.4,400.1 637.6,377.9 637.8,402.5 638.0,400.8 638.2,355.6 638.4,330.1 638.6,361.9 638.8,393.9 639.0,368.3 639.2,368.5 639.4,373.1 639.6,402.9 639.8,443.8 640.0,423.3 640.2,363.8 640.4,393.2 640.6,391.2 640.8,384.7 641.0,376.4 641.2,372.2 641.4,371.9 641.6,384.5 641.8,371.1 642.0,378.8 642.2,345.7 642.4,362.5 642.6,402.9 642.8,388.6 643.0,396.9 643.2,410.4 643.4,392.6 643.6,410.4 643.8,413.5 644.0,411.8 644.2,389.5 644.4,385.4 644.6,411.8 644.8,428.4 645.0,390.5 645.2,362.5 645.4,384.7 645.6,412.3 645.8,424.5 646.0,395.6 646.2,411.2 646.4,406.2 646.6,449.1 646.8,436.2 647.0,421.9 647.2,418.6 647.4,419.1 647.6,467.4 647.8,489.9 648.0,459.0 648.2,416.3 648.4,417.2 648.5,422.5 648.7,431.8 648.9,385.9 649.1,398.6 649.3,425.1 649.5,395.3 649.7,395.7 649.9,414.0 650.1,430.9 650.3,437.2 650.5,454.4 650.7,428.0 650.9,459.1 651.1,503.3 651.3,468.5 651.5,434.6 651.7,423.0 651.9,446.8 652.1,401.2 652.3,442.5 652.5,446.4 652.7,429.0 652.9,439.2 653.1,455.8 653.3,456.5 653.5,460.3 653.7,463.3 653.9,471.7 654.1,461.8 654.3,471.0 654.5,474.1 654.7,479.1 654.9,456.6 655.1,456.5 655.3,449.8 655.5,452.9 655.7,465.5 655.9,458.9 656.1,453.8 656.3,464.1 656.5,468.6 656.7,438.7 656.9,415.4 657.1,439.6 657.3,472.8 657.5,456.0 657.7,461.8 657.9,443.8 658.1,456.6 658.3,462.7 658.5,436.7 658.7,439.6 658.9,449.1 659.1,455.5 659.3,458.0 659.5,469.9 659.7,457.2 659.9,459.4 660.1,455.2 660.3,438.5 660.5,458.6 660.7,445.4 660.9,438.4 661.1,410.2 661.3,433.4 661.5,450.4 661.7,434.4 661.9,437.7 662.1,445.2 662.3,444.5 662.5,439.5 662.7,435.1 662.9,437.0 663.1,444.4 663.3,438.9 663.5,423.0 663.7,406.2 663.9,419.6 664.1,436.3 664.3,442.4 664.5,445.2 664.7,450.8 664.9,478.8 665.1,467.6 665.3,473.4 665.5,461.8 665.7,470.6 665.9,457.4 666.1,453.9 666.3,450.3 666.5,458.8 666.7,449.5 666.9,400.1 667.1,435.2 667.3,455.1 667.5,454.8 667.7,450.7 667.9,468.1 668.1,484.3 668.3,468.8 668.5,437.3 668.7,451.2 668.9,439.7 669.1,436.6 669.3,436.7 669.5,454.4 669.7,425.5 669.9,440.8 670.1,430.7 670.3,445.5 670.5,439.6 670.7,451.7 670.9,442.1 671.1,468.9 671.3,440.8 671.5,450.8 671.7,446.8 671.9,436.6 672.1,436.2 672.3,391.3 672.5,412.5 672.7,412.5 672.9,432.6 673.1,418.8 673.3,406.0 673.5,386.4 673.7,409.1 673.9,431.7 674.1,440.0 674.3,415.9 674.5,442.0 674.7,450.1 674.9,447.3 675.1,456.4 675.3,465.9 675.5,441.2 675.7,451.1 675.9,439.6 676.1,450.0 676.3,449.4 676.5,434.5 676.7,440.4 676.9,445.2 677.1,429.3 677.3,467.7 677.5,432.2 677.7,420.8 677.9,400.2 678.1,418.5 678.3,437.7 678.5,427.5 678.7,424.8 678.9,433.4 679.1,425.8 679.3,429.4 679.5,430.0 679.7,432.0 679.9,431.3 680.1,453.7 680.3,449.2 680.5,441.2 680.7,437.7 680.9,439.4 681.1,434.2 681.3,440.5 681.5,436.9 681.7,418.0 681.8,410.6 682.0,425.6 682.2,426.2 682.4,426.7 682.6,425.0 682.8,421.1 683.0,421.0 683.2,420.6 683.4,426.7 683.6,418.3 683.8,414.4 684.0,420.3 684.2,439.5 684.4,432.3 684.6,426.2 684.8,434.9 685.0,426.8 685.2,419.8 685.4,413.9 685.6,413.2 685.8,410.1 686.0,401.4 686.2,412.7 686.4,406.6 686.6,407.1 686.8,411.5 687.0,417.8 687.2,416.5 687.4,415.4 687.6,414.8 687.8,416.1 688.0,419.5 688.2,418.7 688.4,415.6 688.6,422.9 688.8,406.9 689.0,418.7 689.2,424.8 689.4,411.5 689.6,408.5 689.8,409.2 690.0,411.8 690.2,398.3 690.4,403.9 690.6,397.2 690.8,402.6 691.0,391.3 691.2,398.9 691.4,395.0 691.6,400.0 691.8,393.0 692.0,384.2 692.2,396.2 692.4,394.0 692.6,394.5 692.8,394.3 693.0,394.4 693.2,395.6 693.4,393.8 693.6,402.1 693.8,395.6 694.0,403.1 694.2,412.6 694.4,400.8 694.6,393.3 694.8,393.4 695.0,394.5 695.2,397.7 695.4,390.6 695.6,391.0 695.8,381.1 696.0,381.0 696.2,388.0 696.4,392.7 696.6,394.0 696.8,400.1 697.0,403.5 697.2,418.3 697.4,406.9 697.6,408.4 697.8,396.3 698.0,415.2 698.2,420.3 698.4,417.0 698.6,417.5 698.8,417.3 699.0,409.2 699.2,413.0 699.4,426.9 699.6,448.9 699.8,432.3 700.0,431.9 700.2,428.3 700.4,437.7 700.6,430.4 700.8,446.7 701.0,457.5 701.2,473.5 701.4,434.9 701.6,400.3 701.8,423.8 702.0,426.5 702.2,440.2 702.4,430.4 702.6,432.1 702.8,444.0 703.0,417.7 703.2,419.8 703.4,419.0 703.6,417.8 703.8,427.4 704.0,433.5 704.2,423.3 704.4,433.3 704.6,429.5 704.8,410.6 705.0,405.6 705.2,437.3 705.4,463.2 705.6,433.0 705.8,426.1 706.0,421.9 706.2,423.6 706.4,427.0 706.6,425.4 706.8,420.8 707.0,433.6 707.2,430.1 707.4,424.0 707.6,433.5 707.8,428.8 708.0,442.7 708.2,434.1 708.4,434.3 708.6,422.5 708.8,406.1 709.0,427.2 709.2,441.8 709.4,428.4 709.6,441.8 709.8,442.8 710.0,429.0 710.2,438.1 710.4,451.2 710.6,466.3 710.8,430.6 711.0,447.6 711.2,450.8 711.4,431.1 711.6,455.7 711.8,455.2 712.0,437.0 712.2,454.5 712.4,447.5 712.6,430.3 712.8,444.7 713.0,410.4 713.2,420.7 713.4,451.3 713.6,464.0 713.8,459.3 714.0,446.5 714.2,445.0 714.4,456.2 714.6,442.8 714.8,454.1 715.0,489.2 715.1,480.8 715.3,466.4 715.5,479.0 715.7,472.9 715.9,477.2 716.1,470.2 716.3,473.6 716.5,457.1 716.7,426.0 716.9,439.9 717.1,455.6 717.3,478.4 717.5,459.8 717.7,476.1 717.9,474.7 718.1,474.3 718.3,509.1 718.5,488.0 718.7,458.6 718.9,464.2 719.1,472.5 719.3,467.2 719.5,454.9 719.7,487.4 719.9,472.7 720.1,470.6 720.3,474.2 720.5,475.3 720.7,466.8 720.9,476.0 721.1,493.8 721.3,441.1 721.5,460.2 721.7,454.7 721.9,454.4 722.1,460.0 722.3,471.6 722.5,469.9 722.7,455.9 722.9,474.2 723.1,467.7 723.3,451.4 723.5,469.1 723.7,464.1 723.9,450.8 724.1,478.6 724.3,471.3 724.5,447.4 724.7,421.1 724.9,453.2 725.1,464.0 725.3,464.2 725.5,450.9 725.7,454.6 725.9,455.5 726.1,447.3 726.3,446.0 726.5,446.6 726.7,445.9 726.9,450.4 727.1,448.2 727.3,443.7 727.5,455.4 727.7,459.3 727.9,463.8 728.1,443.2 728.3,457.6 728.5,459.9 728.7,452.1 728.9,456.3 729.1,437.5 729.3,415.0 729.5,443.3 729.7,461.1 729.9,452.4 730.1,487.7 730.3,486.9 730.5,477.6 730.7,477.4 730.9,463.8 731.1,464.9 731.3,477.0 731.5,475.5 731.7,469.3 731.9,471.1 732.1,476.8 732.3,463.0 732.5,461.1 732.7,430.7 732.9,448.8 733.1,480.2 733.3,504.0 733.5,482.8 733.7,465.9 733.9,477.0 734.1,479.1 734.3,462.4 734.5,487.4 734.7,484.8 734.9,481.1 735.1,483.6 735.3,482.7 735.5,471.0 735.7,476.6 735.9,513.4 736.1,487.0 736.3,471.4 736.5,486.2 736.7,464.8 736.9,471.5 737.1,450.2 737.3,457.6 737.5,467.6 737.7,455.1 737.9,463.4 738.1,463.4 738.3,468.1 738.5,470.6 738.7,465.4 738.9,469.4 739.1,453.3 739.3,445.6 739.5,461.7 739.7,462.4 739.9,469.3 740.1,480.2 740.3,498.0 740.5,483.3 740.7,461.0 740.9,480.7 741.1,469.2 741.3,487.6 741.5,474.0 741.7,492.6 741.9,495.6 742.1,486.4 742.3,482.4 742.5,474.9 742.7,491.1 742.9,477.3 743.1,482.1 743.3,467.5 743.5,450.4 743.7,456.9 743.9,484.1 744.1,504.7 744.3,481.6 744.5,464.9 744.7,466.7 744.9,465.8 745.1,470.2 745.3,467.5 745.5,460.9 745.7,463.0 745.9,467.6 746.1,463.2 746.3,450.3 746.5,462.1 746.7,450.3 746.9,457.6 747.1,467.0 747.3,454.0 747.5,467.8 747.7,451.8 747.9,456.0 748.1,463.4 748.2,478.7 748.4,489.6 748.6,474.2 748.8,461.8 749.0,453.7 749.2,440.4 749.4,448.1 749.6,458.8 749.8,468.5 750.0,456.2 750.2,450.6 750.4,437.8 750.6,441.8 750.8,433.7 751.0,428.1 751.2,420.1 751.4,432.9 751.6,439.3 751.8,444.9 752.0,431.1 752.2,443.6 752.4,427.9 752.6,450.9 752.8,473.7 753.0,452.3 753.2,435.3 753.4,438.9 753.6,433.4 753.8,416.3 754.0,428.0 754.2,431.7 754.4,435.2 754.6,405.5 754.8,423.7 755.0,426.8 755.2,430.6 755.4,426.7 755.6,423.3 755.8,437.0 756.0,447.2 756.2,445.5 756.4,441.0 756.6,446.6 756.8,457.7 757.0,445.8 757.2,446.6 757.4,430.3 757.6,438.6 757.8,471.3 758.0,491.4 758.2,445.0 758.4,449.1 758.6,437.7 758.8,439.1 759.0,433.2 759.2,426.5 759.4,433.1 759.6,420.6 759.8,411.4 760.0,390.7 760.2,412.6 760.4,404.5 760.6,407.9 760.8,409.7 761.0,421.1 761.2,405.5 761.4,441.7 761.6,442.4 761.8,467.9 762.0,458.3 762.2,438.4 762.4,451.6 762.6,436.6 762.8,427.4 763.0,468.7 763.2,433.1 763.4,428.9 763.6,438.9 763.8,423.8 764.0,415.6 764.2,396.0 764.4,418.9 764.6,429.3 764.8,432.0 765.0,430.6 765.2,431.3 765.4,435.1 765.6,447.3 765.8,441.1 766.0,433.8 766.2,463.7 766.4,474.4 766.6,438.3 766.8,444.1 767.0,426.4 767.2,432.3 767.4,425.9 767.6,434.7 767.8,424.2 768.0,414.9 768.2,400.7 768.4,421.0 768.6,422.3 768.8,421.4 769.0,427.1 769.2,425.4 769.4,442.1 769.6,414.0 769.8,413.5 770.0,422.1 770.2,405.0 770.4,406.4 770.6,391.9 770.8,383.0 771.0,394.5 771.2,377.7 771.4,382.6 771.6,384.4 771.8,375.7 772.0,376.7 772.2,382.5 772.4,381.4 772.6,413.3 772.8,392.9 773.0,377.0 773.2,374.1 773.4,385.5 773.6,376.9 773.8,380.4 774.0,374.6 774.2,345.0 774.4,358.9 774.6,370.2 774.8,361.5 775.0,376.8 775.2,404.6 775.4,375.5 775.6,376.9 775.8,378.0 776.0,375.5 776.2,379.3 776.4,375.0 776.6,380.2 776.8,378.7 777.0,376.1 777.2,381.5 777.4,374.5 777.6,375.8 777.8,374.7 778.0,370.7 778.2,386.4 778.4,365.0 778.6,386.8 778.8,418.9 779.0,398.2 779.2,386.9 779.4,389.9 779.6,397.6 779.8,395.1 780.0,398.8 780.2,407.4 780.4,385.7 780.6,404.0 780.8,417.6 781.0,421.0 781.2,422.5 781.4,410.3 781.5,421.5 781.7,428.8 781.9,419.9 782.1,400.4 782.3,419.1 782.5,432.9 782.7,451.9 782.9,435.1 783.1,458.4 783.3,467.6 783.5,444.9 783.7,432.9 783.9,412.5 784.1,442.0 784.3,442.8 784.5,446.0 784.7,446.9 784.9,464.4 785.1,478.8 785.3,464.1 785.5,450.4 785.7,445.6 785.9,454.1 786.1,448.4 786.3,446.7 786.5,426.3 786.7,449.2 786.9,445.3 787.1,468.0 787.3,465.8 787.5,469.7 787.7,477.2 787.9,462.8 788.1,472.2 788.3,467.2 788.5,498.0 788.7,479.5 788.9,471.6 789.1,464.4 789.3,468.5 789.5,468.5 789.7,468.8 789.9,461.3 790.1,465.2 790.3,473.2 790.5,449.8 790.7,443.6 790.9,453.1 791.1,430.5 791.3,436.1 791.5,430.4 791.7,428.2 791.9,437.9 792.1,431.0 792.3,424.3 792.5,436.1 792.7,464.2 792.9,432.7 793.1,424.0 793.3,424.4 793.5,410.8 793.7,426.8 793.9,430.3 794.1,401.1 794.3,418.3 794.5,424.2 794.7,430.9 794.9,457.6 795.1,439.0 795.3,417.0 795.5,411.9 795.7,417.8 795.9,404.0 796.1,407.8 796.3,399.2 796.5,387.8 796.7,411.1 796.9,403.1 797.1,408.7 797.3,403.8 797.5,409.2 797.7,406.9 797.9,399.3 798.1,413.9 798.3,390.6 798.5,410.1 798.7,433.7 798.9,454.7 799.1,416.6 799.3,413.7 799.5,422.1 799.7,403.3 799.9,401.7 800.1,381.5 800.3,393.8 800.5,394.5 800.7,415.7 800.9,404.9 801.1,410.5 801.3,410.6 801.5,414.2 801.7,427.4 801.9,417.3 802.1,430.3 802.3,439.6 802.5,428.2 802.7,409.7 802.9,402.4 803.1,409.7 803.3,421.4 803.5,402.6 803.7,421.0 803.9,383.5 804.1,374.4 804.3,389.8 804.5,394.3 804.7,397.5 804.9,422.0 805.1,386.8 805.3,401.4 805.5,382.9 805.7,395.1 805.9,394.8 806.1,398.1 806.3,371.9 806.5,380.2 806.7,370.9 806.9,371.8 807.1,360.8 807.3,319.4 807.5,339.4 807.7,347.3 807.9,342.8 808.1,348.7 808.3,353.8 808.5,378.5 808.7,372.6 808.9,398.6 809.1,355.6 809.3,310.8 809.5,344.6 809.7,386.6 809.9,363.2 810.1,383.2 810.3,381.4 810.5,375.0 810.7,365.6 810.9,370.6 811.1,371.1 811.3,378.9 811.5,364.2 811.7,349.3 811.9,363.4 812.1,372.0 812.3,354.3 812.5,371.3 812.7,368.0 812.9,347.8 813.1,363.0 813.3,351.4 813.5,315.7 813.7,335.0 813.9,322.1 814.1,347.1 814.3,383.9 814.5,372.0 814.7,349.7 814.8,344.0 815.0,350.8 815.2,358.6 815.4,341.9 815.6,337.7 815.8,342.2 816.0,342.9 816.2,331.2 816.4,340.1 816.6,359.8 816.8,360.9 817.0,348.6 817.2,358.0 817.4,355.2 817.6,359.0 817.8,346.3 818.0,358.7 818.2,394.1 818.4,380.4 818.6,361.6 818.8,355.7 819.0,366.3 819.2,354.5 819.4,363.0 819.6,383.0 819.8,364.9 820.0,360.5 820.2,364.1 820.4,360.7 820.6,332.1 820.8,369.7 821.0,373.2 821.2,378.6 821.4,364.8 821.6,370.4 821.8,401.2 822.0,383.0 822.2,387.6 822.4,387.7 822.6,378.4 822.8,366.2 823.0,373.3 823.2,371.7 823.4,371.2 823.6,367.6 823.8,376.8 824.0,359.5 824.2,377.1 824.4,373.3 824.6,382.1 824.8,361.5 825.0,335.0 825.2,356.3 825.4,365.1 825.6,387.2 825.8,381.8 826.0,396.1 826.2,406.7 826.4,399.4 826.6,381.0 826.8,378.2 827.0,386.8 827.2,384.2 827.4,390.5 827.6,376.2 827.8,363.9 828.0,346.3 828.2,382.6 828.4,377.3 828.6,411.5 828.8,427.9 829.0,401.7 829.2,374.3 829.4,355.5 829.6,382.0 829.8,397.8 830.0,428.8 830.2,422.9 830.4,399.6 830.6,415.0 830.8,402.1 831.0,421.6 831.2,444.9 831.4,414.4 831.6,391.9 831.8,422.4 832.0,414.4 832.2,401.3 832.4,437.4 832.6,460.7 832.8,408.1 833.0,385.4 833.2,393.4 833.4,414.6 833.6,397.0 833.8,366.5 834.0,402.7 834.2,420.2 834.4,431.3 834.6,415.4 834.8,398.5 835.0,401.4 835.2,454.1 835.4,422.4 835.6,423.8 835.8,397.6 836.0,407.0 836.2,400.5 836.4,417.2 836.6,418.7 836.8,412.1 837.0,372.2 837.2,394.0 837.4,406.1 837.6,415.6 837.8,411.8 838.0,414.5 838.2,424.9 838.4,422.6 838.6,421.6 838.8,406.5 839.0,405.0 839.2,414.6 839.4,395.2 839.6,378.3 839.8,376.2 840.0,399.6 840.2,399.6 840.4,390.0 840.6,396.3 840.8,404.4 841.0,405.4 841.2,415.9 841.4,402.2 841.6,422.6 841.8,449.7 842.0,434.1 842.2,412.4 842.4,424.6 842.6,425.2 842.8,430.7 843.0,416.9 843.2,416.5 843.4,410.4 843.6,416.7 843.8,414.2 844.0,417.3 844.2,403.7 844.4,413.3 844.6,408.5 844.8,417.8 845.0,406.8 845.2,413.9 845.4,403.8 845.6,403.7 845.8,377.3 846.0,399.5 846.2,408.2 846.4,416.8 846.6,419.5 846.8,454.1 847.0,435.7 847.2,421.1 847.4,438.6 847.6,433.4 847.8,424.9 847.9,424.1 848.1,436.1 848.3,414.2 848.5,400.6 848.7,435.5 848.9,426.7 849.1,443.2 849.3,454.5 849.5,439.9 849.7,445.7 849.9,460.0 850.1,443.5 850.3,452.3 850.5,442.4 850.7,443.4 850.9,447.2 851.1,449.7 851.3,435.4 851.5,430.2 851.7,432.5 851.9,410.6 852.1,424.4 852.3,436.1 852.5,434.8 852.7,434.8 852.9,415.4 853.1,430.3 853.3,455.6 853.5,463.2 853.7,453.9 853.9,446.5 854.1,439.0 854.3,441.3 854.5,446.3 854.7,441.9 854.9,447.1 855.1,439.9 855.3,442.1 855.5,443.0 855.7,438.0 855.9,439.9 856.1,442.0 856.3,438.5 856.5,435.6 856.7,419.1 856.9,430.4 857.1,444.5 857.3,450.7 857.5,459.7 857.7,444.6 857.9,438.8 858.1,440.7 858.3,437.1 858.5,440.8 858.7,440.7 858.9,430.0 859.1,440.3 859.3,434.6 859.5,438.9 859.7,453.0 859.9,431.6 860.1,439.4 860.3,423.6 860.5,415.9 860.7,427.4 860.9,427.7 861.1,432.7 861.3,418.4 861.5,426.0 861.7,428.8 861.9,423.5 862.1,429.4 862.3,446.3 862.5,430.8 862.7,422.6 862.9,422.4 863.1,427.0 863.3,410.7 863.5,405.5 863.7,414.4 863.9,423.7 864.1,418.7 864.3,425.2 864.5,416.2"/>
</g>
<g id="axes" stroke="#000" stroke-width="3" fill="none" stroke-linecap="butt">
<line x1="117" y1="12" x2="117" y2="630"/>
<line x1="103.5" y1="622.7" x2="1014.5" y2="622.7"/>
<!-- y major -->
<line x1="103.5" y1="100.3" x2="117" y2="100.3"/>
<line x1="103.5" y1="274.3" x2="117" y2="274.3"/>
<line x1="103.5" y1="448.5" x2="117" y2="448.5"/>
<!-- y minor -->
<line x1="109.5" y1="13.4" x2="117" y2="13.4"/>
<line x1="109.5" y1="187.3" x2="117" y2="187.3"/>
<line x1="109.5" y1="361.4" x2="117" y2="361.4"/>
<line x1="109.5" y1="535.5" x2="117" y2="535.5"/>
<!-- x major -->
<line x1="266.3" y1="622" x2="266.3" y2="635.6"/>
<line x1="565" y1="622" x2="565" y2="635.6"/>
<line x1="863.8" y1="622" x2="863.8" y2="635.6"/>
<!-- x minor -->
<line x1="415.6" y1="622" x2="415.6" y2="629.6"/>
<line x1="714.4" y1="622" x2="714.4" y2="629.6"/>
<line x1="1013" y1="622" x2="1013" y2="629.6"/>
</g>
<g id="ticklabels" class="tick">
<text x="96" y="107.8" text-anchor="end">1.2</text>
<text x="96" y="281.8" text-anchor="end">1.0</text>
<text x="96" y="456" text-anchor="end">0.8</text>
<text x="96" y="630" text-anchor="end">0.6</text>
<text x="266" y="664.5" text-anchor="middle">0</text>
<text x="565" y="664.5" text-anchor="middle">5000</text>
<text x="864" y="664.5" text-anchor="middle">10000</text>
</g>
<text class="title" transform="translate(566.2,716.3) scale(1.0625,1)" font-size="32" text-anchor="middle">Time (ps)</text>
<text class="title" font-size="34" transform="translate(35.3,334.8) rotate(-90) scale(0.977,1)" text-anchor="middle">Radius of gyration (nm)</text>
<g id="legend">
<line x1="520.7" y1="533.3" x2="581.7" y2="533.3" stroke="#4a4a4a" stroke-width="1.8"/>
<line x1="520.7" y1="566.3" x2="581.7" y2="566.3" stroke="#5858ff" stroke-width="1.8"/>
<line x1="520.7" y1="599.3" x2="581.7" y2="599.3" stroke="#ffa24a" stroke-width="1.8"/>
<text class="leg" x="588.7" y="542.2">Radius of gyration (no electric field)</text>
<text class="leg" x="588.7" y="575.8">Radius of gyration (E= 0.001 V/nm)</text>
<text class="leg" x="588.7" y="608.6">Radius of gyration (E= 0.002 V/nm)</text>
</g>
</svg>
</body></html>
